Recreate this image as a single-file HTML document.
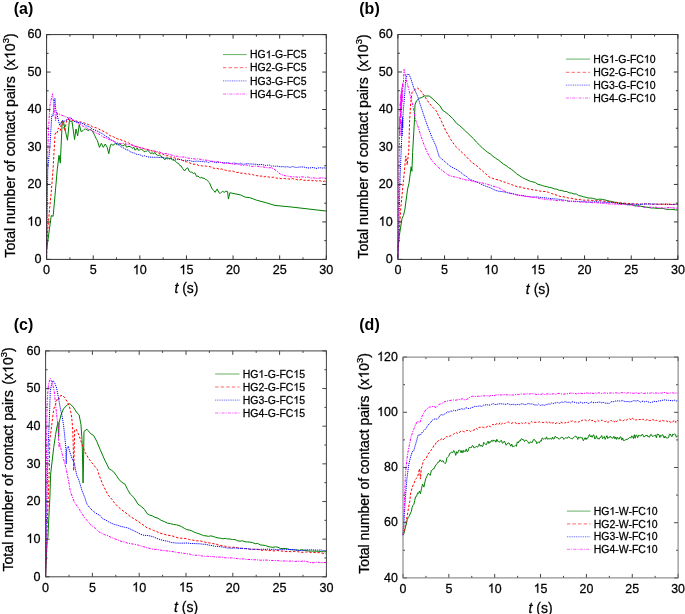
<!DOCTYPE html>
<html><head><meta charset="utf-8"><style>
html,body{margin:0;padding:0;background:#fff;}
body{width:685px;height:614px;overflow:hidden;}
svg{display:block;will-change:transform;}
text{font-family:"Liberation Sans", sans-serif;fill:#000;stroke:#000;stroke-width:0.25px;}
.tk{font-size:12.6px;}
.at{font-size:14px;}
.lg{font-size:10.5px;}
.pl{font-size:16px;font-weight:bold;stroke-width:0;}
.o1{fill:none;stroke:none;}
</style></head><body>
<svg width="685" height="614" viewBox="0 0 685 614">
<rect width="685" height="614" fill="#fff"/>
<path d="M46.60,250.03 L51.26,215.56 L53.13,216.31 L54.99,195.71 L57.23,169.85 L59.00,155.24 L60.31,163.11 L62.26,121.15 L63.38,121.15 L65.53,131.64 L67.48,140.26 L69.44,120.02 L70.70,121.59 L71.96,121.15 L73.26,130.17 L74.57,139.51 L75.97,129.02 L77.65,135.76 L79.23,124.52 L81.10,131.64 L83.15,130.51 L84.42,129.23 L85.70,129.00 L86.97,129.77 L88.30,130.84 L89.63,129.49 L90.96,129.82 L92.28,130.89 L93.54,133.07 L94.80,135.76 L96.11,138.43 L97.41,140.63 L99.46,147.37 L101.33,143.25 L103.29,147.37 L105.24,144.00 L107.20,147.37 L108.79,153.74 L110.46,144.75 L111.77,144.13 L113.08,145.55 L114.38,144.00 L115.52,143.58 L116.66,144.78 L117.79,143.72 L118.93,144.28 L120.07,144.00 L121.36,145.24 L122.65,145.77 L123.94,145.37 L125.23,144.28 L126.52,147.26 L127.81,146.63 L128.98,146.41 L130.16,146.65 L131.33,147.44 L132.51,148.55 L133.68,146.89 L134.85,150.00 L136.03,149.70 L137.20,147.86 L138.38,150.28 L139.55,150.00 L140.70,149.26 L141.84,149.38 L142.98,150.29 L144.12,151.73 L145.26,151.41 L146.41,151.21 L147.55,150.38 L148.69,151.12 L149.89,152.72 L151.08,153.61 L152.28,152.52 L153.48,154.13 L154.67,152.47 L155.87,154.30 L157.07,154.73 L158.26,155.93 L159.46,154.73 L160.66,156.20 L161.85,156.68 L163.05,157.87 L165.01,159.74 L165.94,158.24 L167.19,157.67 L168.44,158.24 L169.69,158.67 L170.94,158.60 L172.19,159.74 L173.47,160.13 L174.75,160.60 L176.03,161.59 L177.31,163.11 L178.62,163.43 L179.92,165.66 L181.23,166.00 L182.53,168.36 L184.59,170.98 L186.45,168.36 L187.78,167.85 L189.11,171.26 L190.44,172.24 L191.76,172.10 L193.30,173.46 L194.84,172.85 L196.71,176.60 L197.99,175.91 L199.27,177.35 L200.55,177.85 L201.83,177.35 L203.00,178.38 L204.16,178.07 L205.33,179.39 L206.50,179.60 L208.17,181.47 L209.51,182.74 L210.85,186.15 L212.18,188.96 L213.63,190.32 L215.07,192.33 L217.22,188.96 L218.71,192.41 L220.20,193.46 L222.44,191.21 L224.21,192.33 L225.89,191.21 L227.57,191.59 L228.40,199.08 L229.90,192.71 L234.93,193.83 L240.71,194.96 L245.28,197.21 L249.76,197.58 L256.65,200.20 L265.05,202.45 L275.02,205.45 L290.87,206.95 L326.30,211.07" fill="none" stroke="#008000" stroke-width="1.0" stroke-linejoin="round"/>
<path d="M46.60,257.53 L46.88,240.29 L49.12,214.07 L51.26,191.96 L53.13,168.36 L54.11,150.18 L55.08,134.26 L56.06,132.22 L57.04,133.14 L58.35,127.89 L59.33,129.70 L60.31,130.51 L61.28,123.84 L62.26,121.15 L63.52,126.29 L64.78,130.89 L66.83,119.27 L69.12,119.56 L71.40,120.02 L73.68,120.86 L75.97,120.76 L78.25,121.95 L80.54,121.90 L82.47,122.58 L84.41,122.98 L86.34,123.80 L88.28,124.52 L90.36,125.36 L92.45,126.85 L94.54,127.37 L96.63,127.96 L98.72,129.02 L100.79,130.20 L102.86,131.06 L104.93,132.06 L107.00,133.31 L109.07,135.01 L111.27,136.31 L113.47,136.72 L115.67,138.18 L117.87,139.00 L120.07,139.51 L122.23,140.40 L124.39,141.10 L126.55,142.35 L128.71,142.97 L130.87,144.64 L133.03,145.50 L134.99,146.62 L136.94,146.34 L138.90,147.47 L140.86,147.95 L142.82,148.22 L144.77,149.12 L146.73,149.08 L148.69,149.79 L150.65,150.39 L152.61,151.12 L154.56,151.53 L156.52,152.10 L158.48,152.89 L160.44,153.75 L162.40,153.84 L164.35,155.01 L166.31,155.69 L168.27,155.78 L170.23,156.98 L172.19,157.12 L174.26,157.83 L176.32,158.56 L178.39,159.00 L180.46,159.92 L182.53,160.49 L184.62,161.60 L186.70,161.81 L188.78,162.58 L190.86,163.41 L192.95,164.16 L195.03,164.23 L196.93,164.47 L198.84,165.53 L200.75,165.66 L202.65,166.00 L204.56,165.89 L206.46,166.19 L208.37,166.32 L210.28,166.80 L212.18,167.31 L214.09,168.45 L215.99,168.20 L217.90,168.65 L219.81,169.43 L221.71,168.95 L223.62,169.78 L225.53,170.22 L227.43,170.90 L229.34,170.98 L231.26,171.09 L233.18,171.10 L235.11,172.07 L237.03,172.52 L238.95,172.31 L240.87,173.25 L242.80,173.12 L244.72,173.40 L246.64,174.13 L248.57,173.74 L250.49,174.69 L252.41,174.37 L254.34,175.36 L256.26,175.52 L258.18,175.91 L260.10,176.22 L262.00,175.98 L263.90,177.04 L265.79,176.27 L267.69,176.89 L269.58,177.10 L271.48,177.36 L273.37,177.21 L275.27,177.94 L277.17,178.19 L279.06,177.98 L280.96,178.78 L282.85,178.47 L284.74,178.53 L286.63,178.93 L288.52,178.87 L290.41,179.29 L292.30,178.58 L294.19,178.97 L296.08,179.31 L297.97,179.97 L299.85,179.81 L301.74,179.25 L303.63,180.34 L305.52,180.21 L307.41,180.57 L309.30,180.17 L311.19,180.36 L313.08,180.80 L314.97,180.20 L316.86,181.18 L318.74,180.70 L320.63,180.96 L322.52,181.71 L324.41,181.13 L326.30,181.47" fill="none" stroke="#ff0000" stroke-width="1.0" stroke-linejoin="round" stroke-dasharray="2.4,1.7"/>
<path d="M46.60,255.65 L47.07,221.93 L47.72,170.23 L49.86,147.37 L51.82,114.78 L53.13,115.90 L54.43,99.04 L54.99,98.29 L55.64,109.53 L57.04,113.65 L57.69,117.40 L59.65,125.27 L62.17,120.77 L64.78,121.15 L70.09,117.40 L72.05,118.78 L74.01,121.15 L75.97,121.99 L77.93,122.49 L79.88,122.68 L81.84,123.40 L83.88,124.08 L85.92,125.72 L87.96,126.38 L89.99,127.13 L92.03,128.93 L94.07,129.79 L96.11,130.51 L98.27,131.59 L100.43,132.72 L102.59,133.87 L104.75,135.50 L106.91,136.89 L109.07,138.01 L111.27,140.10 L113.47,140.95 L115.67,142.97 L117.87,144.47 L120.07,145.88 L122.03,147.50 L123.98,148.12 L126.14,149.73 L128.30,150.14 L130.46,151.83 L132.62,152.69 L134.78,153.21 L136.94,154.49 L138.81,154.53 L140.67,155.15 L142.54,156.15 L144.40,155.75 L146.27,156.47 L148.13,156.97 L150.00,157.12 L151.95,157.17 L153.91,157.41 L155.87,157.18 L157.83,157.41 L159.79,157.52 L161.74,157.45 L163.70,157.58 L165.66,158.24 L167.62,158.84 L169.57,158.79 L171.53,158.63 L173.49,159.37 L175.45,159.73 L177.41,159.26 L179.36,159.53 L181.32,159.52 L183.28,160.55 L185.24,160.23 L187.20,160.59 L189.15,160.59 L191.11,160.96 L193.07,161.54 L195.03,161.24 L196.93,161.21 L198.84,161.20 L200.75,161.42 L202.65,161.38 L204.56,161.90 L206.46,161.77 L208.37,162.52 L210.28,161.52 L212.18,161.63 L214.09,162.09 L215.99,162.74 L217.90,162.42 L219.81,162.30 L221.71,162.36 L223.62,162.90 L225.53,162.87 L227.43,162.75 L229.34,163.11 L231.26,163.66 L233.18,163.06 L235.11,163.16 L237.03,163.71 L238.95,164.04 L240.87,163.14 L242.80,164.21 L244.72,164.11 L246.64,163.59 L248.57,163.85 L250.49,163.98 L252.41,163.93 L254.34,164.31 L256.26,164.14 L258.18,164.71 L260.10,164.61 L262.00,164.41 L263.90,165.02 L265.79,165.49 L267.69,165.26 L269.58,165.18 L271.48,166.07 L273.37,166.02 L275.27,166.33 L277.17,166.02 L279.06,166.60 L280.96,166.85 L282.85,166.48 L284.76,167.08 L286.68,166.64 L288.59,167.08 L290.50,167.33 L292.41,166.53 L294.32,167.06 L296.23,167.57 L298.14,167.24 L300.05,166.96 L301.97,167.03 L303.88,166.95 L305.79,167.61 L307.84,167.95 L309.89,167.99 L311.94,167.57 L313.99,167.66 L316.04,168.54 L318.10,167.93 L320.15,167.72 L322.20,168.12 L324.25,167.82 L326.30,168.36" fill="none" stroke="#0000ff" stroke-width="1.0" stroke-linejoin="round" stroke-dasharray="1.2,0.9"/>
<path d="M46.60,253.78 L47.25,168.36 L48.56,129.02 L49.86,105.79 L52.47,93.80 L54.43,108.03 L55.64,120.77 L56.39,112.91 L68.79,118.15 L71.27,119.27 L73.76,120.43 L76.24,122.20 L78.72,123.30 L81.21,125.19 L83.69,126.64 L86.17,127.50 L88.66,129.48 L91.14,130.31 L93.62,131.60 L96.11,133.14 L98.70,133.96 L101.29,135.71 L103.88,137.29 L106.47,138.16 L109.07,139.51 L111.82,140.39 L114.57,141.83 L117.32,142.82 L120.07,143.63 L123.98,143.25 L126.37,144.11 L128.75,144.79 L131.14,144.76 L133.52,145.41 L135.91,146.79 L138.29,147.06 L140.68,147.49 L143.07,148.31 L145.45,149.16 L147.84,149.72 L150.22,150.46 L152.61,150.75 L155.05,151.08 L157.50,151.71 L159.95,152.10 L162.40,153.43 L164.84,153.45 L167.29,153.92 L169.74,154.58 L172.19,155.24 L174.72,156.19 L177.26,156.23 L179.80,157.02 L182.34,157.09 L184.88,156.98 L187.41,158.08 L189.95,158.20 L192.49,158.60 L195.03,158.99 L197.48,158.81 L199.93,159.22 L202.38,159.85 L204.83,160.10 L207.28,160.25 L209.73,160.80 L212.18,161.24 L214.56,161.65 L216.94,161.39 L219.31,162.22 L221.69,162.71 L224.07,163.25 L226.45,163.34 L228.82,163.30 L231.20,163.65 L233.58,164.39 L235.96,163.91 L238.33,164.21 L240.71,164.98 L243.14,165.37 L245.56,164.90 L247.98,165.28 L250.41,166.20 L252.83,166.43 L255.26,166.00 L257.68,166.27 L260.10,166.86 L262.95,166.91 L265.79,167.59 L268.64,167.85 L271.48,167.61 L275.02,169.85 L277.54,171.63 L280.06,173.98 L282.92,175.09 L285.77,175.86 L288.63,176.22 L291.08,176.92 L293.54,176.71 L295.99,176.91 L298.44,177.29 L300.89,176.90 L303.34,176.91 L305.79,177.35 L308.35,177.04 L310.92,178.18 L313.48,177.89 L316.04,178.20 L318.61,178.26 L321.17,177.81 L323.74,178.03 L326.30,178.47" fill="none" stroke="#ff00ff" stroke-width="1.0" stroke-linejoin="round" stroke-dasharray="2.6,1.1,1.1,1.1"/>
<path d="M397.90,247.78 L399.21,236.54 L402.01,218.54 L403.41,215.54 L404.81,209.92 L407.61,188.93 L409.01,183.31 L409.66,178.06 L411.15,166.82 L411.90,171.31 L412.65,152.20 L414.51,119.21 L414.98,104.97 L416.47,100.85 L419.37,98.22 L421.84,97.47 L424.31,95.97 L426.74,96.00 L429.17,95.97 L432.06,98.22 L435.98,101.97 L439.90,105.72 L442.89,110.59 L444.85,111.72 L448.67,114.71 L452.69,118.46 L456.51,123.34 L459.73,125.67 L462.95,128.58 L465.59,131.05 L468.23,133.75 L470.86,136.14 L473.50,138.70 L476.52,142.20 L479.54,145.13 L482.55,148.07 L485.17,150.37 L487.78,152.44 L490.39,153.96 L493.01,156.35 L495.62,158.19 L498.21,159.89 L500.81,161.88 L503.40,164.07 L506.00,165.54 L508.59,167.57 L511.23,169.17 L513.87,171.30 L516.50,173.65 L519.14,175.44 L522.36,177.56 L525.58,179.19 L528.02,180.24 L530.46,181.46 L532.91,181.87 L535.35,182.57 L537.79,184.29 L540.23,184.81 L542.57,185.64 L544.90,186.30 L547.23,186.81 L549.57,187.47 L551.90,187.86 L554.23,188.93 L556.73,189.15 L559.22,190.33 L561.71,190.34 L564.21,191.44 L566.70,191.50 L569.19,192.81 L571.69,193.05 L574.02,193.95 L576.35,193.98 L578.69,195.54 L581.02,195.99 L583.35,196.83 L585.69,197.18 L588.04,198.01 L590.40,197.97 L592.76,198.36 L595.11,199.05 L597.49,199.44 L599.87,199.09 L602.25,199.38 L604.63,199.80 L606.97,200.50 L609.30,201.09 L611.63,201.42 L613.97,202.19 L616.30,202.42 L618.63,202.94 L620.97,203.31 L623.30,203.92 L625.63,204.14 L627.97,204.73 L630.30,204.51 L632.63,205.00 L634.97,205.88 L637.30,205.81 L639.63,205.91 L641.97,206.54 L644.30,206.79 L646.63,207.30 L648.97,207.48 L651.30,208.07 L653.63,207.98 L655.97,208.29 L658.30,208.42 L660.75,208.30 L663.20,208.50 L665.65,209.19 L668.10,209.40 L670.55,209.35 L673.00,209.44 L675.45,209.94 L677.90,209.92" fill="none" stroke="#008000" stroke-width="1.0" stroke-linejoin="round"/>
<path d="M397.90,255.65 L399.86,222.67 L400.61,209.92 L403.41,180.69 L404.34,171.69 L405.74,155.95 L407.23,164.94 L408.73,150.32 L409.66,119.96 L410.59,103.84 L412.09,92.22 L413.58,90.35 L417.50,88.10 L420.39,90.35 L424.31,95.97 L429.17,103.09 L432.57,107.11 L435.98,110.59 L440.93,119.96 L445.78,130.83 L450.73,139.45 L454.83,145.45 L458.89,149.48 L462.95,153.32 L466.22,156.57 L469.49,160.07 L472.80,163.03 L476.11,165.32 L479.36,168.24 L482.60,171.03 L485.84,173.95 L489.09,176.94 L492.33,178.28 L495.57,179.41 L498.82,179.99 L502.06,181.43 L505.30,182.33 L508.55,183.58 L511.79,184.66 L515.03,185.93 L518.02,186.95 L521.01,187.05 L523.99,188.15 L526.98,188.64 L529.97,189.31 L533.05,189.86 L536.13,190.21 L539.21,190.93 L542.29,191.39 L545.37,191.55 L548.45,192.30 L551.36,193.43 L554.28,194.41 L557.20,195.34 L560.11,196.43 L563.02,196.63 L565.93,197.38 L568.84,198.08 L571.75,198.40 L574.66,199.12 L577.57,199.43 L580.63,199.41 L583.69,200.20 L586.74,200.11 L589.80,200.22 L592.86,200.48 L595.92,200.81 L598.98,200.53 L602.04,200.89 L605.10,201.30 L608.09,201.56 L611.07,202.03 L614.06,202.39 L617.05,202.45 L620.03,202.91 L623.02,203.01 L626.01,203.31 L628.99,203.46 L631.98,203.87 L634.97,203.92 L637.83,203.87 L640.69,204.07 L643.55,204.25 L646.42,203.81 L649.28,203.69 L652.14,204.42 L655.00,203.95 L657.86,204.21 L660.73,204.22 L663.59,204.36 L666.45,203.97 L669.31,204.34 L672.18,204.38 L675.04,204.42 L677.90,204.30" fill="none" stroke="#ff0000" stroke-width="1.0" stroke-linejoin="round" stroke-dasharray="2.4,1.7"/>
<path d="M397.90,257.53 L398.46,240.66 L399.86,183.31 L400.89,157.07 L401.63,139.45 L401.91,120.71 L402.19,135.70 L402.47,116.96 L402.75,128.21 L403.13,113.22 L404.34,98.97 L405.74,79.48 L407.23,74.23 L409.19,74.61 L411.15,79.48 L413.58,87.35 L417.50,95.97 L420.39,104.97 L423.29,113.59 L425.34,119.96 L428.23,127.83 L432.06,137.58 L435.98,146.20 L438.97,155.95 L439.90,157.45 L443.91,160.82 L448.67,164.94 L449.98,166.07 L454.83,168.69 L457.63,170.22 L460.43,172.06 L463.45,174.74 L466.47,176.51 L469.49,179.19 L472.75,180.46 L476.02,181.93 L479.29,183.18 L482.55,184.81 L485.82,186.21 L489.09,187.28 L492.35,188.82 L495.62,190.43 L498.86,191.27 L502.11,191.60 L505.35,192.20 L508.59,193.05 L512.11,193.58 L515.62,194.33 L519.14,195.30 L522.08,195.44 L525.02,196.05 L527.95,196.49 L530.88,196.94 L533.80,197.04 L536.73,196.91 L539.66,197.24 L542.59,197.69 L545.52,197.86 L548.45,198.30 L551.35,198.67 L554.26,198.85 L557.16,199.06 L560.07,199.46 L562.97,200.01 L565.88,200.38 L568.78,201.28 L571.69,201.30 L574.72,201.22 L577.76,201.55 L580.80,201.29 L583.84,201.47 L586.87,202.12 L589.91,202.19 L592.95,202.04 L595.99,201.80 L599.02,201.98 L602.06,202.21 L605.10,202.43 L608.09,202.37 L611.07,202.47 L614.06,202.75 L617.05,203.27 L620.03,203.66 L623.02,203.31 L626.01,204.08 L628.99,204.16 L631.98,203.87 L634.97,204.30 L637.83,204.53 L640.69,204.28 L643.55,203.97 L646.42,204.04 L649.28,204.16 L652.14,203.99 L655.00,204.06 L657.86,204.37 L660.73,204.09 L663.59,204.08 L666.45,204.35 L669.31,204.18 L672.18,204.51 L675.04,204.22 L677.90,204.30" fill="none" stroke="#0000ff" stroke-width="1.0" stroke-linejoin="round" stroke-dasharray="1.2,0.9"/>
<path d="M397.90,257.53 L398.46,203.17 L399.02,169.44 L399.49,139.45 L399.77,116.96 L399.95,135.70 L400.23,101.97 L400.51,124.46 L400.79,94.47 L401.07,116.96 L401.35,90.72 L401.63,109.47 L401.91,86.98 L402.19,101.97 L402.57,83.23 L403.13,86.98 L404.06,69.36 L406.21,79.48 L408.73,89.23 L411.15,98.97 L413.11,106.84 L415.54,119.96 L418.43,127.83 L421.42,137.58 L424.31,145.45 L427.21,152.20 L430.19,158.19 L434.11,163.07 L438.97,167.94 L443.91,171.69 L446.81,174.05 L449.70,175.81 L454.83,176.94 L458.89,177.87 L462.95,179.19 L466.22,180.02 L469.49,180.31 L472.80,181.37 L476.11,181.81 L479.60,182.47 L483.08,183.07 L486.57,184.06 L489.48,184.93 L492.40,186.04 L495.32,186.89 L498.23,187.43 L502.11,189.81 L505.98,191.93 L509.00,192.85 L512.02,193.88 L515.03,194.55 L518.36,195.31 L521.69,195.63 L525.02,196.43 L527.95,196.56 L530.88,197.26 L533.80,197.32 L536.73,197.75 L539.66,198.65 L542.59,199.02 L545.52,199.19 L548.45,199.80 L551.35,199.74 L554.26,200.30 L557.16,200.60 L560.07,200.43 L562.97,200.86 L565.88,200.58 L568.78,201.11 L571.69,201.30 L574.65,201.68 L577.62,201.32 L580.58,202.14 L583.55,202.32 L586.52,202.02 L589.48,202.00 L592.45,202.63 L595.41,202.69 L598.38,202.80 L601.20,203.27 L604.01,203.12 L606.83,203.72 L609.65,203.90 L612.46,204.02 L615.28,204.01 L618.10,204.37 L620.92,204.44 L623.73,204.41 L626.55,204.60 L629.37,205.05 L632.24,205.31 L635.12,205.69 L638.00,206.36 L640.88,206.19 L643.76,207.27 L646.63,207.30 L649.48,207.17 L652.32,207.35 L655.16,207.19 L658.00,207.67 L660.85,207.87 L663.69,208.05 L666.53,207.91 L669.37,207.47 L672.22,207.72 L675.06,208.22 L677.90,208.05" fill="none" stroke="#ff00ff" stroke-width="1.0" stroke-linejoin="round" stroke-dasharray="2.6,1.1,1.1,1.1"/>
<path d="M45.60,576.80 L46.54,554.21 L47.28,539.15 L47.94,537.27 L48.31,529.74 L48.78,518.82 L49.81,499.24 L50.65,474.02 L53.74,447.28 L55.62,434.48 L57.11,425.82 L58.05,422.43 L58.61,437.50 L59.17,422.43 L61.04,414.90 L63.48,408.88 L67.41,404.74 L69.84,403.61 L73.21,407.00 L77.14,413.02 L79.11,414.90 L80.98,424.69 L82.01,439.38 L82.48,454.06 L83.04,483.05 L83.51,463.85 L83.98,431.47 L86.88,429.21 L90.81,433.73 L93.71,435.61 L96.71,441.26 L100.17,449.54 L104.76,460.08 L109.25,469.12 L111.59,470.24 L113.93,472.13 L116.50,475.71 L119.08,479.66 L122.02,482.38 L124.97,484.18 L127.59,489.55 L130.21,493.97 L134.05,497.73 L137.98,504.14 L141.26,506.49 L144.54,509.41 L147.06,513.55 L149.68,515.11 L152.30,515.77 L154.92,517.31 L157.98,518.24 L161.04,520.25 L164.10,521.45 L167.33,523.08 L170.56,523.71 L173.50,524.43 L176.45,524.84 L179.05,525.56 L181.66,526.76 L184.26,528.28 L186.86,529.61 L189.46,530.11 L191.82,530.88 L194.18,532.14 L196.54,532.97 L198.90,533.75 L201.26,534.63 L203.64,535.64 L206.03,535.85 L208.42,536.37 L210.80,535.86 L213.19,536.43 L215.58,537.27 L218.00,537.93 L220.42,538.20 L222.84,538.71 L225.26,538.51 L227.68,538.98 L230.10,538.99 L232.52,539.53 L235.02,539.59 L237.52,540.81 L240.02,541.20 L242.52,540.75 L245.02,541.76 L247.52,541.94 L250.02,542.16 L252.60,542.57 L255.17,543.78 L257.74,543.45 L260.32,544.93 L262.89,545.15 L265.47,545.55 L267.97,546.54 L270.47,546.97 L272.97,547.35 L275.47,546.80 L277.97,547.25 L280.47,548.48 L282.97,548.56 L285.31,548.49 L287.65,548.81 L289.99,549.59 L292.33,549.80 L294.67,549.80 L297.01,549.94 L299.35,550.32 L301.69,549.67 L304.03,550.26 L306.37,550.44 L308.87,551.09 L311.38,551.11 L313.88,551.11 L316.38,551.23 L318.89,551.30 L321.39,551.54 L323.90,551.81 L326.40,551.57" fill="none" stroke="#008000" stroke-width="1.0" stroke-linejoin="round"/>
<path d="M45.60,576.80 L46.54,546.68 L47.28,523.71 L49.34,468.74 L49.81,439.38 L50.65,433.73 L52.25,420.93 L53.74,408.88 L55.62,403.99 L57.58,397.96 L59.08,399.09 L60.01,396.08 L61.98,395.33 L64.41,397.21 L67.41,402.10 L69.28,405.87 L70.78,411.89 L71.81,418.29 L72.74,429.59 L73.21,444.27 L73.68,470.63 L74.15,452.55 L74.71,429.59 L76.21,429.21 L79.11,435.61 L82.01,444.27 L85.01,452.18 L88.94,458.96 L93.71,464.98 L97.64,469.87 L98.86,474.39 L102.79,484.56 L108.03,495.10 L111.87,499.24 L114.49,503.01 L117.81,506.45 L121.14,509.41 L124.36,511.73 L127.59,514.26 L130.82,516.91 L134.05,518.82 L137.30,520.88 L140.56,523.19 L143.81,525.39 L147.06,527.85 L150.31,529.00 L153.57,530.51 L156.82,531.66 L160.07,533.13 L163.05,533.89 L166.03,534.84 L169.00,535.44 L171.98,535.81 L174.96,536.89 L177.86,537.78 L180.76,538.23 L183.66,538.25 L186.56,538.76 L189.46,539.53 L192.74,540.06 L196.02,540.85 L199.29,540.80 L202.57,541.41 L205.84,542.36 L209.12,542.91 L212.36,543.44 L215.61,544.07 L218.85,545.09 L222.10,545.76 L225.34,546.26 L228.59,547.06 L231.65,547.30 L234.71,547.29 L237.77,547.67 L240.84,548.31 L243.90,548.39 L246.96,548.78 L250.02,549.32 L253.02,549.20 L256.01,549.34 L259.01,549.39 L262.00,550.42 L265.00,549.79 L267.99,550.74 L270.99,550.50 L273.98,550.94 L276.98,550.42 L279.97,550.93 L282.97,551.20 L285.89,551.62 L288.82,551.41 L291.74,551.85 L294.67,551.43 L297.59,551.66 L300.52,552.21 L303.44,552.31 L306.37,551.95 L309.23,552.04 L312.09,552.76 L314.95,552.50 L317.82,552.58 L320.68,552.75 L323.54,553.53 L326.40,553.46" fill="none" stroke="#ff0000" stroke-width="1.0" stroke-linejoin="round" stroke-dasharray="2.4,1.7"/>
<path d="M45.60,576.80 L46.54,520.32 L47.47,471.38 L48.41,441.26 L49.34,419.80 L50.28,391.19 L51.68,383.66 L53.18,380.64 L55.05,383.66 L56.64,388.17 L58.14,396.08 L59.55,403.99 L61.04,411.89 L61.98,415.28 L63.48,424.69 L64.88,437.50 L65.91,449.17 L66.19,463.85 L66.66,448.79 L67.41,448.04 L68.34,446.15 L69.28,450.30 L72.18,458.96 L74.24,462.72 L76.58,474.77 L79.11,480.79 L82.01,490.58 L85.01,498.11 L86.88,504.14 L90.81,509.03 L95.68,513.17 L99.98,515.43 L102.79,518.82 L105.71,520.04 L108.64,521.87 L111.56,523.29 L114.49,524.47 L117.77,525.36 L121.04,526.46 L124.32,527.17 L127.59,527.85 L130.85,529.34 L134.10,530.87 L137.35,532.53 L140.60,534.26 L143.86,535.33 L147.11,535.42 L150.36,535.99 L153.61,536.89 L157.11,538.57 L160.60,539.67 L164.10,540.66 L167.72,541.25 L171.34,542.54 L174.96,542.91 L177.98,543.15 L181.00,543.14 L184.02,543.17 L187.04,542.93 L190.06,543.41 L193.09,543.54 L196.11,543.67 L199.36,543.75 L202.61,544.18 L205.87,544.36 L209.12,545.17 L212.23,545.52 L215.33,546.41 L218.44,546.44 L221.55,546.84 L224.66,547.43 L227.48,548.04 L230.29,548.16 L233.11,548.19 L235.93,547.87 L238.75,548.60 L241.57,548.19 L244.39,548.65 L247.20,548.66 L250.02,548.94 L253.02,549.45 L256.01,549.28 L259.01,549.54 L262.00,549.17 L265.00,549.41 L267.99,549.10 L270.99,549.41 L273.98,549.25 L276.98,549.70 L279.97,549.29 L282.97,549.69 L285.86,549.70 L288.76,549.44 L291.66,549.48 L294.55,549.93 L297.45,550.33 L300.34,550.44 L303.24,550.43 L306.13,549.86 L309.03,549.88 L311.92,549.81 L314.82,550.04 L317.71,550.11 L320.61,549.97 L323.50,550.50 L326.40,550.44" fill="none" stroke="#0000ff" stroke-width="1.0" stroke-linejoin="round" stroke-dasharray="1.2,0.9"/>
<path d="M45.60,576.80 L46.07,501.50 L46.82,419.80 L47.28,399.47 L48.41,384.78 L50.28,378.38 L52.25,382.53 L54.21,391.19 L55.05,399.09 L56.08,408.88 L57.11,419.05 L58.14,424.69 L58.61,440.51 L59.08,447.28 L59.64,443.14 L62.45,455.19 L64.88,463.85 L66.38,469.87 L68.34,479.66 L70.31,491.33 L74.24,501.88 L79.11,509.03 L83.98,516.94 L87.39,520.92 L90.81,524.84 L95.68,528.61 L98.58,531.62 L101.73,533.26 L104.88,534.75 L108.03,535.76 L111.31,537.43 L114.58,538.74 L117.86,539.93 L121.14,541.41 L124.38,541.89 L127.62,543.11 L130.87,543.77 L134.11,544.21 L137.36,544.83 L140.60,545.93 L143.86,546.78 L147.11,547.88 L150.36,548.56 L153.61,549.32 L156.66,549.36 L159.71,550.02 L162.76,550.36 L165.81,550.75 L168.86,551.11 L171.91,551.50 L174.96,551.95 L177.98,552.69 L181.00,552.88 L184.02,553.30 L187.04,553.82 L190.06,554.18 L193.09,555.17 L196.11,555.34 L199.00,555.17 L201.89,555.97 L204.78,556.30 L207.67,556.22 L210.56,556.58 L213.46,556.62 L216.35,557.08 L219.24,557.11 L222.13,557.22 L225.23,557.83 L228.33,557.83 L231.43,557.89 L234.53,558.23 L237.63,558.67 L240.72,558.96 L243.82,558.88 L246.92,559.57 L250.02,559.48 L253.04,559.77 L256.05,559.75 L259.07,560.07 L262.09,560.22 L265.10,560.06 L268.12,560.13 L271.13,560.62 L274.15,560.36 L277.17,560.61 L280.09,560.92 L283.01,561.03 L285.93,560.90 L288.85,561.24 L291.77,560.91 L294.69,561.38 L297.61,561.30 L300.53,561.39 L303.45,560.99 L306.37,561.36 L309.93,562.49 L313.22,562.79 L316.52,562.14 L319.81,562.43 L323.11,562.56 L326.40,562.49" fill="none" stroke="#ff00ff" stroke-width="1.0" stroke-linejoin="round" stroke-dasharray="2.6,1.1,1.1,1.1"/>
<path d="M403.00,535.12 L403.84,533.85 L404.69,530.26 L405.53,526.81 L406.37,524.04 L407.22,519.66 L408.29,517.16 L409.36,516.20 L410.43,513.04 L411.28,511.58 L412.14,507.32 L413.00,505.31 L413.85,504.30 L414.71,500.56 L415.56,496.76 L416.57,496.41 L417.58,492.89 L418.54,493.39 L419.51,490.96 L420.42,493.72 L421.48,488.80 L422.53,484.06 L423.91,487.10 L424.92,481.97 L425.93,478.26 L427.12,475.86 L428.31,473.30 L429.32,474.62 L430.33,475.23 L431.24,470.72 L432.16,470.26 L433.17,468.82 L434.18,468.60 L435.16,466.11 L436.13,464.76 L437.11,463.64 L438.09,462.07 L439.07,461.93 L440.05,459.77 L441.02,461.15 L442.00,461.47 L442.98,460.60 L443.99,462.59 L445.00,463.64 L445.96,462.72 L446.92,457.84 L447.89,456.85 L448.85,455.98 L449.81,453.19 L450.78,452.87 L451.76,452.08 L452.75,452.71 L453.73,450.50 L454.72,451.77 L455.73,455.36 L456.68,451.74 L457.62,453.24 L458.57,450.39 L459.41,450.29 L460.26,450.60 L461.10,452.78 L461.94,450.42 L462.79,452.87 L463.65,450.27 L464.52,451.38 L465.39,451.53 L466.25,448.91 L467.12,451.76 L467.98,451.15 L468.85,448.30 L469.72,446.99 L470.58,447.90 L471.46,447.57 L472.34,445.43 L473.22,446.03 L474.10,448.06 L474.98,447.37 L475.86,446.83 L476.73,446.43 L477.61,447.16 L478.49,445.69 L479.37,443.86 L480.25,446.27 L481.13,445.14 L481.99,446.62 L482.85,446.11 L483.71,442.31 L484.58,443.30 L485.44,444.39 L486.30,444.73 L487.16,442.83 L488.02,441.18 L488.89,443.49 L489.75,441.66 L490.61,442.18 L491.47,440.42 L492.33,441.47 L493.20,439.85 L494.06,441.28 L494.99,440.29 L495.92,442.19 L496.85,439.29 L497.78,441.47 L498.71,441.62 L499.64,442.28 L500.57,440.73 L501.50,440.42 L502.43,443.25 L503.36,442.57 L504.29,441.11 L505.22,442.92 L506.15,445.22 L507.08,443.76 L508.01,443.43 L508.94,442.82 L509.87,444.34 L510.80,446.24 L511.73,444.09 L512.66,446.82 L513.59,446.52 L514.52,446.09 L515.45,445.34 L516.38,446.26 L517.31,441.83 L518.24,442.95 L519.17,440.77 L520.10,441.28 L520.99,439.17 L521.87,438.68 L522.76,439.90 L523.63,439.76 L524.50,441.52 L525.37,440.48 L526.24,439.96 L527.12,440.96 L527.99,441.83 L528.87,443.55 L529.75,442.78 L530.63,441.64 L531.52,443.02 L532.40,442.11 L533.28,439.91 L534.17,439.15 L535.05,440.73 L535.93,441.04 L536.82,443.71 L537.71,442.38 L538.59,442.25 L539.48,442.82 L540.37,440.68 L541.25,441.25 L542.14,437.99 L543.03,438.52 L543.89,439.32 L544.76,438.41 L545.63,439.20 L546.50,436.80 L547.37,439.22 L548.23,438.73 L549.10,438.97 L549.97,438.54 L550.84,438.68 L551.71,439.29 L552.57,437.04 L553.44,438.96 L554.31,438.75 L555.18,436.19 L556.05,437.42 L556.92,437.50 L557.78,437.71 L558.65,439.04 L559.52,439.17 L560.39,438.28 L561.26,437.15 L562.12,437.46 L562.99,437.59 L563.86,439.36 L564.73,438.46 L565.60,437.71 L566.46,438.00 L567.33,438.31 L568.20,436.70 L569.07,437.42 L569.94,437.63 L570.80,438.60 L571.67,438.64 L572.54,438.95 L573.41,437.45 L574.28,437.14 L575.15,436.14 L576.01,436.26 L576.88,437.12 L577.75,439.42 L578.62,436.85 L579.49,438.07 L580.35,437.32 L581.22,437.85 L582.09,437.42 L583.37,440.73 L584.25,439.12 L585.12,437.66 L585.99,439.66 L586.86,437.93 L587.73,438.33 L588.60,436.31 L589.48,434.55 L590.35,436.89 L591.22,435.53 L592.10,437.31 L592.97,435.33 L593.85,434.84 L594.72,438.86 L595.60,438.58 L596.47,435.78 L597.35,438.68 L598.22,438.51 L599.10,439.27 L599.97,437.42 L600.84,437.29 L601.71,435.56 L602.58,438.70 L603.44,437.44 L604.31,436.44 L605.18,439.37 L606.05,437.53 L606.92,435.64 L607.78,438.51 L608.65,437.37 L609.52,437.43 L610.39,436.02 L611.26,437.81 L612.12,438.11 L612.99,437.97 L613.87,436.27 L614.74,438.88 L615.62,437.03 L616.49,439.38 L617.36,437.03 L618.24,438.78 L619.11,439.14 L619.99,436.98 L620.86,436.87 L621.74,440.11 L622.61,437.90 L623.48,440.50 L624.36,440.53 L625.23,439.92 L626.11,439.35 L627.04,439.60 L627.97,438.71 L628.90,438.40 L629.83,437.22 L630.76,438.18 L631.69,435.86 L632.62,436.59 L633.46,438.53 L634.31,434.71 L635.15,438.28 L636.00,435.16 L636.84,435.30 L637.69,437.75 L638.53,435.22 L639.38,435.54 L640.22,435.80 L641.07,436.00 L641.91,434.46 L642.76,434.53 L643.60,436.73 L644.45,436.98 L645.30,435.54 L646.14,435.90 L646.99,434.94 L647.83,436.74 L648.68,436.63 L649.52,437.23 L650.37,434.72 L651.21,434.48 L652.06,436.04 L652.93,436.66 L653.79,435.63 L654.66,435.61 L655.53,434.98 L656.40,437.90 L657.27,434.03 L658.13,434.45 L659.00,434.61 L659.87,437.54 L660.74,435.31 L661.61,436.24 L662.47,434.58 L663.34,435.85 L664.21,438.05 L665.08,436.04 L665.95,437.90 L666.81,437.85 L667.68,437.94 L668.55,437.68 L669.42,434.23 L670.29,434.05 L671.16,435.94 L672.02,436.73 L672.89,434.01 L673.76,434.80 L674.63,433.79 L675.50,434.51 L676.36,437.27 L677.23,436.12 L678.10,435.76" fill="none" stroke="#008000" stroke-width="1.0" stroke-linejoin="round"/>
<path d="M403.00,535.12 L404.47,529.51 L405.93,522.15 L407.22,515.93 L408.50,507.80 L409.79,501.17 L410.70,492.89 L412.72,485.99 L414.14,483.09 L415.56,479.09 L417.58,477.16 L419.51,468.60 L420.42,479.09 L421.34,468.60 L422.44,464.39 L423.54,460.60 L424.82,459.18 L426.11,458.37 L427.39,455.63 L428.71,453.14 L430.02,451.79 L431.34,449.84 L432.76,448.14 L434.18,444.59 L435.42,444.31 L436.65,441.37 L437.89,441.44 L439.13,439.90 L440.34,440.24 L441.56,438.61 L442.77,440.13 L443.99,438.80 L445.20,438.22 L446.42,436.48 L447.63,436.94 L448.85,436.04 L450.07,436.17 L451.28,435.39 L452.50,435.14 L453.71,434.10 L454.98,432.82 L456.24,432.32 L457.51,433.78 L458.77,432.91 L460.04,431.90 L461.18,430.78 L462.32,431.05 L463.46,431.56 L464.60,431.95 L465.74,431.65 L466.88,430.18 L468.02,430.79 L469.21,430.39 L470.40,431.39 L471.59,430.21 L472.78,430.51 L473.98,429.94 L475.17,429.72 L476.36,428.15 L477.55,429.49 L478.74,427.59 L479.94,427.11 L481.13,427.48 L482.30,427.06 L483.48,427.34 L484.65,427.91 L485.83,427.53 L487.01,426.81 L488.18,425.23 L489.36,426.15 L490.53,426.81 L491.71,425.15 L492.88,424.31 L494.06,425.00 L495.24,425.26 L496.43,423.70 L497.61,423.72 L498.79,424.51 L499.98,422.70 L501.16,424.41 L502.34,423.18 L503.53,422.62 L504.71,423.75 L505.90,422.56 L507.08,422.24 L508.26,421.97 L509.45,422.61 L510.63,423.64 L511.81,423.24 L513.00,422.57 L514.18,422.29 L515.37,422.49 L516.55,424.04 L517.73,423.19 L518.92,423.90 L520.10,423.06 L521.25,422.57 L522.40,423.53 L523.55,422.48 L524.70,423.46 L525.85,422.50 L527.00,423.19 L528.15,422.99 L529.30,423.77 L530.45,423.47 L531.60,421.42 L532.75,422.59 L533.90,422.25 L535.05,422.24 L536.15,422.33 L537.26,421.96 L538.36,422.27 L539.47,421.77 L540.57,422.56 L541.68,422.32 L542.78,422.39 L543.89,422.58 L545.00,422.22 L546.10,421.81 L547.21,422.75 L548.31,423.15 L549.42,421.81 L550.52,423.60 L551.63,422.76 L552.73,422.95 L553.84,422.72 L554.94,423.97 L556.05,423.06 L557.23,422.82 L558.41,422.63 L559.60,423.87 L560.78,421.50 L561.97,423.05 L563.15,423.00 L564.33,422.89 L565.52,422.88 L566.70,421.44 L567.88,422.72 L569.07,421.68 L570.22,420.83 L571.37,421.33 L572.52,420.83 L573.66,421.19 L574.81,422.16 L575.96,421.56 L577.11,422.21 L578.26,422.11 L579.41,421.63 L580.56,419.91 L581.71,420.66 L582.86,420.05 L584.01,419.69 L585.15,419.91 L586.30,420.61 L587.45,421.27 L588.60,420.58 L589.73,419.57 L590.85,419.51 L591.97,421.01 L593.10,419.91 L594.22,421.25 L595.35,421.86 L596.47,421.26 L597.60,420.09 L598.72,421.15 L599.85,420.83 L600.97,420.76 L602.10,419.89 L603.22,421.00 L604.34,421.53 L605.47,421.60 L606.59,420.51 L607.72,422.38 L608.84,421.82 L609.97,421.41 L611.07,420.21 L612.18,421.51 L613.28,420.97 L614.39,421.91 L615.50,420.12 L616.60,421.65 L617.71,420.64 L618.81,419.92 L619.92,420.01 L621.02,420.10 L622.13,421.17 L623.24,420.70 L624.34,419.88 L625.45,420.79 L626.55,420.19 L627.66,418.94 L628.77,419.20 L629.92,418.67 L631.07,420.05 L632.22,418.07 L633.37,419.14 L634.52,418.79 L635.67,420.16 L636.82,419.66 L637.98,419.39 L639.13,419.48 L640.30,419.45 L641.48,420.33 L642.65,419.14 L643.83,419.44 L645.00,420.41 L646.18,420.37 L647.36,418.95 L648.53,420.22 L649.71,420.61 L650.88,420.43 L652.06,419.75 L653.18,419.37 L654.31,421.09 L655.44,420.76 L656.56,420.18 L657.69,421.55 L658.82,421.68 L659.94,420.94 L661.07,421.21 L662.20,420.22 L663.32,420.78 L664.45,420.94 L665.58,420.48 L666.70,421.07 L667.83,421.68 L668.97,420.86 L670.11,422.27 L671.25,421.93 L672.39,422.57 L673.54,420.84 L674.68,420.10 L675.82,422.44 L676.96,419.97 L678.10,421.13" fill="none" stroke="#ff0000" stroke-width="1.0" stroke-linejoin="round" stroke-dasharray="2.4,1.7"/>
<path d="M403.00,535.12 L403.92,522.70 L404.93,505.04 L406.85,479.09 L408.78,464.46 L410.70,456.74 L412.17,451.77 L413.73,450.94 L415.10,445.97 L415.56,444.59 L418.13,434.93 L420.51,434.93 L422.44,431.97 L424.37,430.24 L425.88,428.70 L427.39,426.10 L428.98,423.99 L430.57,422.56 L432.16,420.30 L433.81,419.15 L435.46,418.96 L437.11,419.20 L438.58,417.91 L440.05,415.34 L441.51,414.61 L442.98,415.14 L444.45,414.12 L445.92,413.40 L447.54,411.78 L449.16,412.19 L450.78,410.92 L452.18,411.38 L453.59,410.26 L454.99,410.64 L456.68,410.86 L458.36,409.36 L460.04,409.54 L461.52,408.51 L462.99,409.37 L464.47,408.93 L465.95,407.65 L467.43,408.20 L468.91,408.58 L470.39,408.30 L471.87,407.33 L473.30,407.33 L474.73,406.35 L476.17,406.41 L477.60,406.53 L479.04,405.85 L480.47,405.97 L481.90,406.53 L483.34,404.99 L484.77,405.47 L486.21,404.41 L487.64,404.85 L489.08,405.04 L490.51,405.10 L491.95,403.95 L493.39,403.73 L494.82,404.43 L496.26,404.48 L497.70,404.17 L499.13,403.88 L500.57,403.47 L502.02,404.09 L503.46,404.02 L504.91,404.19 L506.36,404.42 L507.80,403.55 L509.25,404.27 L510.70,404.84 L512.14,404.36 L513.59,404.30 L515.08,404.86 L516.57,404.64 L518.07,404.39 L519.56,404.70 L521.05,403.93 L522.54,403.68 L524.04,404.48 L525.53,404.62 L527.02,403.97 L528.51,403.36 L530.00,404.02 L531.45,404.00 L532.90,404.10 L534.34,405.02 L535.79,404.89 L537.24,405.19 L538.69,403.85 L540.13,405.48 L541.58,405.00 L543.03,404.85 L544.47,405.30 L545.92,404.66 L547.37,404.38 L548.81,403.81 L550.26,404.29 L551.71,402.94 L553.15,403.80 L554.60,402.89 L556.05,402.92 L557.49,402.40 L558.94,403.31 L560.39,402.62 L561.83,401.93 L563.28,402.41 L564.73,401.73 L566.18,401.95 L567.62,402.43 L569.07,402.09 L570.52,402.93 L571.96,401.77 L573.41,402.08 L574.86,402.40 L576.30,402.85 L577.75,402.84 L579.20,403.17 L580.64,402.19 L582.09,402.92 L583.58,403.18 L585.07,402.36 L586.56,402.52 L588.05,403.46 L589.54,403.27 L591.03,401.72 L592.52,402.45 L594.01,402.76 L595.50,402.57 L596.99,402.55 L598.48,402.15 L599.97,402.09 L601.62,402.78 L603.27,402.34 L604.92,403.07 L606.57,403.19 L608.00,403.26 L609.43,403.45 L610.85,401.91 L612.28,401.51 L613.71,401.71 L615.13,400.98 L616.56,401.28 L617.99,400.75 L619.41,400.98 L620.82,401.39 L622.23,400.21 L623.64,401.16 L625.05,401.49 L626.45,401.60 L627.86,401.54 L629.27,401.78 L630.68,401.74 L632.09,401.47 L633.49,400.56 L634.90,400.90 L636.31,400.92 L637.72,400.54 L639.13,401.26 L640.56,402.17 L642.00,401.30 L643.44,401.11 L644.87,401.91 L646.31,401.32 L647.75,401.54 L649.18,402.37 L650.62,402.57 L652.06,402.36 L653.68,401.32 L655.31,401.47 L656.94,401.67 L658.57,400.98 L659.99,400.72 L661.42,400.93 L662.84,400.15 L664.27,399.88 L665.70,399.90 L667.12,400.33 L668.55,400.33 L669.97,400.72 L671.40,400.20 L672.82,400.84 L674.25,400.16 L676.17,401.06 L678.10,400.43" fill="none" stroke="#0000ff" stroke-width="1.0" stroke-linejoin="round" stroke-dasharray="1.2,0.9"/>
<path d="M403.00,535.12 L403.73,517.18 L404.38,505.04 L405.38,474.40 L406.85,459.77 L408.32,449.84 L409.33,445.42 L410.70,437.97 L413.73,429.14 L417.12,421.41 L420.06,422.24 L421.52,417.27 L423.72,413.24 L425.93,409.54 L429.32,407.06 L431.24,407.00 L433.17,406.23 L436.20,407.61 L439.13,404.30 L441.56,403.57 L443.99,402.09 L446.42,401.16 L448.85,400.71 L451.28,400.28 L453.71,399.88 L455.82,400.23 L457.93,399.66 L460.04,399.33 L462.79,398.78 L465.36,400.16 L467.97,398.53 L470.58,396.84 L472.48,396.23 L474.37,396.55 L476.27,396.14 L478.16,396.31 L480.06,396.37 L481.95,395.77 L483.85,395.85 L485.74,395.81 L487.64,395.74 L489.58,396.16 L491.53,395.09 L493.47,395.91 L495.42,395.21 L497.36,394.82 L499.30,394.85 L501.25,394.98 L503.19,394.80 L505.14,394.49 L507.08,394.91 L508.94,394.87 L510.80,395.10 L512.66,394.96 L514.52,395.14 L516.38,394.14 L518.24,394.55 L520.10,394.36 L521.97,393.79 L523.84,394.14 L525.71,394.03 L527.57,393.76 L529.44,394.05 L531.31,393.75 L533.18,393.81 L535.05,394.08 L536.92,394.60 L538.79,394.15 L540.67,394.51 L542.54,393.76 L544.41,394.46 L546.29,394.01 L548.16,393.80 L550.03,394.37 L551.90,393.97 L553.78,393.82 L555.65,394.33 L557.52,393.61 L559.40,393.42 L561.27,393.95 L563.14,394.20 L565.02,393.95 L566.89,393.70 L568.76,393.68 L570.63,393.03 L572.51,393.43 L574.38,393.15 L576.25,393.91 L578.13,393.50 L580.00,393.01 L581.87,393.57 L583.75,393.56 L585.62,392.93 L587.49,393.02 L589.36,393.33 L591.24,392.95 L593.11,393.58 L594.98,392.98 L596.86,393.32 L598.73,392.72 L600.60,393.35 L602.48,393.45 L604.35,392.87 L606.22,393.03 L608.09,393.38 L609.97,392.98 L611.81,393.00 L613.65,393.16 L615.49,392.76 L617.33,393.05 L619.17,393.48 L621.02,392.69 L622.86,392.67 L624.70,392.77 L626.54,393.26 L628.38,392.64 L630.22,392.92 L632.06,393.14 L633.91,393.33 L635.75,392.59 L637.59,393.33 L639.43,393.34 L641.27,392.62 L643.11,393.51 L644.95,393.29 L646.80,393.03 L648.64,393.13 L650.48,393.15 L652.32,392.53 L654.16,393.46 L656.00,392.88 L657.84,393.43 L659.69,392.85 L661.53,393.25 L663.37,392.53 L665.21,392.47 L667.05,393.24 L668.89,393.30 L670.73,392.85 L672.58,392.85 L674.42,393.20 L676.26,393.05 L678.10,392.98" fill="none" stroke="#ff00ff" stroke-width="1.0" stroke-linejoin="round" stroke-dasharray="2.6,1.1,1.1,1.1"/>
<line x1="46.60" y1="259.40" x2="46.60" y2="255.40" stroke="#333" stroke-width="1"/>
<line x1="46.60" y1="34.60" x2="46.60" y2="38.60" stroke="#333" stroke-width="1"/>
<line x1="93.22" y1="259.40" x2="93.22" y2="255.40" stroke="#333" stroke-width="1"/>
<line x1="93.22" y1="34.60" x2="93.22" y2="38.60" stroke="#333" stroke-width="1"/>
<line x1="139.83" y1="259.40" x2="139.83" y2="255.40" stroke="#333" stroke-width="1"/>
<line x1="139.83" y1="34.60" x2="139.83" y2="38.60" stroke="#333" stroke-width="1"/>
<line x1="186.45" y1="259.40" x2="186.45" y2="255.40" stroke="#333" stroke-width="1"/>
<line x1="186.45" y1="34.60" x2="186.45" y2="38.60" stroke="#333" stroke-width="1"/>
<line x1="233.07" y1="259.40" x2="233.07" y2="255.40" stroke="#333" stroke-width="1"/>
<line x1="233.07" y1="34.60" x2="233.07" y2="38.60" stroke="#333" stroke-width="1"/>
<line x1="279.68" y1="259.40" x2="279.68" y2="255.40" stroke="#333" stroke-width="1"/>
<line x1="279.68" y1="34.60" x2="279.68" y2="38.60" stroke="#333" stroke-width="1"/>
<line x1="326.30" y1="259.40" x2="326.30" y2="255.40" stroke="#333" stroke-width="1"/>
<line x1="326.30" y1="34.60" x2="326.30" y2="38.60" stroke="#333" stroke-width="1"/>
<line x1="69.91" y1="259.40" x2="69.91" y2="257.40" stroke="#333" stroke-width="1"/>
<line x1="69.91" y1="34.60" x2="69.91" y2="36.60" stroke="#333" stroke-width="1"/>
<line x1="116.53" y1="259.40" x2="116.53" y2="257.40" stroke="#333" stroke-width="1"/>
<line x1="116.53" y1="34.60" x2="116.53" y2="36.60" stroke="#333" stroke-width="1"/>
<line x1="163.14" y1="259.40" x2="163.14" y2="257.40" stroke="#333" stroke-width="1"/>
<line x1="163.14" y1="34.60" x2="163.14" y2="36.60" stroke="#333" stroke-width="1"/>
<line x1="209.76" y1="259.40" x2="209.76" y2="257.40" stroke="#333" stroke-width="1"/>
<line x1="209.76" y1="34.60" x2="209.76" y2="36.60" stroke="#333" stroke-width="1"/>
<line x1="256.38" y1="259.40" x2="256.38" y2="257.40" stroke="#333" stroke-width="1"/>
<line x1="256.38" y1="34.60" x2="256.38" y2="36.60" stroke="#333" stroke-width="1"/>
<line x1="302.99" y1="259.40" x2="302.99" y2="257.40" stroke="#333" stroke-width="1"/>
<line x1="302.99" y1="34.60" x2="302.99" y2="36.60" stroke="#333" stroke-width="1"/>
<line x1="46.60" y1="259.40" x2="50.60" y2="259.40" stroke="#333" stroke-width="1"/>
<line x1="326.30" y1="259.40" x2="322.30" y2="259.40" stroke="#333" stroke-width="1"/>
<line x1="46.60" y1="221.93" x2="50.60" y2="221.93" stroke="#333" stroke-width="1"/>
<line x1="326.30" y1="221.93" x2="322.30" y2="221.93" stroke="#333" stroke-width="1"/>
<line x1="46.60" y1="184.47" x2="50.60" y2="184.47" stroke="#333" stroke-width="1"/>
<line x1="326.30" y1="184.47" x2="322.30" y2="184.47" stroke="#333" stroke-width="1"/>
<line x1="46.60" y1="147.00" x2="50.60" y2="147.00" stroke="#333" stroke-width="1"/>
<line x1="326.30" y1="147.00" x2="322.30" y2="147.00" stroke="#333" stroke-width="1"/>
<line x1="46.60" y1="109.53" x2="50.60" y2="109.53" stroke="#333" stroke-width="1"/>
<line x1="326.30" y1="109.53" x2="322.30" y2="109.53" stroke="#333" stroke-width="1"/>
<line x1="46.60" y1="72.07" x2="50.60" y2="72.07" stroke="#333" stroke-width="1"/>
<line x1="326.30" y1="72.07" x2="322.30" y2="72.07" stroke="#333" stroke-width="1"/>
<line x1="46.60" y1="34.60" x2="50.60" y2="34.60" stroke="#333" stroke-width="1"/>
<line x1="326.30" y1="34.60" x2="322.30" y2="34.60" stroke="#333" stroke-width="1"/>
<line x1="46.60" y1="240.67" x2="48.60" y2="240.67" stroke="#333" stroke-width="1"/>
<line x1="326.30" y1="240.67" x2="324.30" y2="240.67" stroke="#333" stroke-width="1"/>
<line x1="46.60" y1="203.20" x2="48.60" y2="203.20" stroke="#333" stroke-width="1"/>
<line x1="326.30" y1="203.20" x2="324.30" y2="203.20" stroke="#333" stroke-width="1"/>
<line x1="46.60" y1="165.73" x2="48.60" y2="165.73" stroke="#333" stroke-width="1"/>
<line x1="326.30" y1="165.73" x2="324.30" y2="165.73" stroke="#333" stroke-width="1"/>
<line x1="46.60" y1="128.27" x2="48.60" y2="128.27" stroke="#333" stroke-width="1"/>
<line x1="326.30" y1="128.27" x2="324.30" y2="128.27" stroke="#333" stroke-width="1"/>
<line x1="46.60" y1="90.80" x2="48.60" y2="90.80" stroke="#333" stroke-width="1"/>
<line x1="326.30" y1="90.80" x2="324.30" y2="90.80" stroke="#333" stroke-width="1"/>
<line x1="46.60" y1="53.33" x2="48.60" y2="53.33" stroke="#333" stroke-width="1"/>
<line x1="326.30" y1="53.33" x2="324.30" y2="53.33" stroke="#333" stroke-width="1"/>
<rect x="46.60" y="34.60" width="279.70" height="224.80" fill="none" stroke="#333" stroke-width="1"/>
<text x="41.40" y="263.20" transform="translate(0,-9.212) scale(1,1.035)" text-anchor="end" class="tk" style="font-size:12.6px">0</text>
<text x="41.40" y="225.73" transform="translate(0,-7.901) scale(1,1.035)" text-anchor="end" class="tk" style="font-size:12.6px"><tspan class="o1">1</tspan>0</text>
<text x="41.40" y="188.27" transform="translate(0,-6.589) scale(1,1.035)" text-anchor="end" class="tk" style="font-size:12.6px">20</text>
<text x="41.40" y="150.80" transform="translate(0,-5.278) scale(1,1.035)" text-anchor="end" class="tk" style="font-size:12.6px">30</text>
<text x="41.40" y="113.33" transform="translate(0,-3.967) scale(1,1.035)" text-anchor="end" class="tk" style="font-size:12.6px">40</text>
<text x="41.40" y="75.87" transform="translate(0,-2.655) scale(1,1.035)" text-anchor="end" class="tk" style="font-size:12.6px">50</text>
<text x="41.40" y="38.40" transform="translate(0,-1.344) scale(1,1.035)" text-anchor="end" class="tk" style="font-size:12.6px">60</text>
<text x="46.60" y="274.20" transform="translate(0,-9.597) scale(1,1.035)" text-anchor="middle" class="tk" style="font-size:12.6px">0</text>
<text x="93.22" y="274.20" transform="translate(0,-9.597) scale(1,1.035)" text-anchor="middle" class="tk" style="font-size:12.6px">5</text>
<text x="139.83" y="274.20" transform="translate(0,-9.597) scale(1,1.035)" text-anchor="middle" class="tk" style="font-size:12.6px"><tspan class="o1">1</tspan>0</text>
<text x="186.45" y="274.20" transform="translate(0,-9.597) scale(1,1.035)" text-anchor="middle" class="tk" style="font-size:12.6px"><tspan class="o1">1</tspan>5</text>
<text x="233.07" y="274.20" transform="translate(0,-9.597) scale(1,1.035)" text-anchor="middle" class="tk" style="font-size:12.6px">20</text>
<text x="279.68" y="274.20" transform="translate(0,-9.597) scale(1,1.035)" text-anchor="middle" class="tk" style="font-size:12.6px">25</text>
<text x="326.30" y="274.20" transform="translate(0,-9.597) scale(1,1.035)" text-anchor="middle" class="tk" style="font-size:12.6px">30</text>
<text x="186.45" y="293.50" transform="translate(0,-10.272) scale(1,1.035)" text-anchor="middle" class="at"><tspan font-style="italic">t</tspan> (s)</text>
<text transform="translate(15.10,145.50) rotate(-90) scale(1,1.035)" text-anchor="middle" class="at" style="font-size:14.15px">Total number of contact pairs <tspan dx="1.5">(x</tspan><tspan class="o1">1</tspan>0<tspan dy="-6" style="font-size:9.5px">3</tspan><tspan dy="6">)</tspan></text>
<line x1="397.90" y1="259.40" x2="397.90" y2="255.40" stroke="#333" stroke-width="1"/>
<line x1="397.90" y1="34.50" x2="397.90" y2="38.50" stroke="#333" stroke-width="1"/>
<line x1="444.57" y1="259.40" x2="444.57" y2="255.40" stroke="#333" stroke-width="1"/>
<line x1="444.57" y1="34.50" x2="444.57" y2="38.50" stroke="#333" stroke-width="1"/>
<line x1="491.23" y1="259.40" x2="491.23" y2="255.40" stroke="#333" stroke-width="1"/>
<line x1="491.23" y1="34.50" x2="491.23" y2="38.50" stroke="#333" stroke-width="1"/>
<line x1="537.90" y1="259.40" x2="537.90" y2="255.40" stroke="#333" stroke-width="1"/>
<line x1="537.90" y1="34.50" x2="537.90" y2="38.50" stroke="#333" stroke-width="1"/>
<line x1="584.57" y1="259.40" x2="584.57" y2="255.40" stroke="#333" stroke-width="1"/>
<line x1="584.57" y1="34.50" x2="584.57" y2="38.50" stroke="#333" stroke-width="1"/>
<line x1="631.23" y1="259.40" x2="631.23" y2="255.40" stroke="#333" stroke-width="1"/>
<line x1="631.23" y1="34.50" x2="631.23" y2="38.50" stroke="#333" stroke-width="1"/>
<line x1="677.90" y1="259.40" x2="677.90" y2="255.40" stroke="#333" stroke-width="1"/>
<line x1="677.90" y1="34.50" x2="677.90" y2="38.50" stroke="#333" stroke-width="1"/>
<line x1="421.23" y1="259.40" x2="421.23" y2="257.40" stroke="#333" stroke-width="1"/>
<line x1="421.23" y1="34.50" x2="421.23" y2="36.50" stroke="#333" stroke-width="1"/>
<line x1="467.90" y1="259.40" x2="467.90" y2="257.40" stroke="#333" stroke-width="1"/>
<line x1="467.90" y1="34.50" x2="467.90" y2="36.50" stroke="#333" stroke-width="1"/>
<line x1="514.57" y1="259.40" x2="514.57" y2="257.40" stroke="#333" stroke-width="1"/>
<line x1="514.57" y1="34.50" x2="514.57" y2="36.50" stroke="#333" stroke-width="1"/>
<line x1="561.23" y1="259.40" x2="561.23" y2="257.40" stroke="#333" stroke-width="1"/>
<line x1="561.23" y1="34.50" x2="561.23" y2="36.50" stroke="#333" stroke-width="1"/>
<line x1="607.90" y1="259.40" x2="607.90" y2="257.40" stroke="#333" stroke-width="1"/>
<line x1="607.90" y1="34.50" x2="607.90" y2="36.50" stroke="#333" stroke-width="1"/>
<line x1="654.57" y1="259.40" x2="654.57" y2="257.40" stroke="#333" stroke-width="1"/>
<line x1="654.57" y1="34.50" x2="654.57" y2="36.50" stroke="#333" stroke-width="1"/>
<line x1="397.90" y1="259.40" x2="401.90" y2="259.40" stroke="#333" stroke-width="1"/>
<line x1="677.90" y1="259.40" x2="673.90" y2="259.40" stroke="#333" stroke-width="1"/>
<line x1="397.90" y1="221.92" x2="401.90" y2="221.92" stroke="#333" stroke-width="1"/>
<line x1="677.90" y1="221.92" x2="673.90" y2="221.92" stroke="#333" stroke-width="1"/>
<line x1="397.90" y1="184.43" x2="401.90" y2="184.43" stroke="#333" stroke-width="1"/>
<line x1="677.90" y1="184.43" x2="673.90" y2="184.43" stroke="#333" stroke-width="1"/>
<line x1="397.90" y1="146.95" x2="401.90" y2="146.95" stroke="#333" stroke-width="1"/>
<line x1="677.90" y1="146.95" x2="673.90" y2="146.95" stroke="#333" stroke-width="1"/>
<line x1="397.90" y1="109.47" x2="401.90" y2="109.47" stroke="#333" stroke-width="1"/>
<line x1="677.90" y1="109.47" x2="673.90" y2="109.47" stroke="#333" stroke-width="1"/>
<line x1="397.90" y1="71.98" x2="401.90" y2="71.98" stroke="#333" stroke-width="1"/>
<line x1="677.90" y1="71.98" x2="673.90" y2="71.98" stroke="#333" stroke-width="1"/>
<line x1="397.90" y1="34.50" x2="401.90" y2="34.50" stroke="#333" stroke-width="1"/>
<line x1="677.90" y1="34.50" x2="673.90" y2="34.50" stroke="#333" stroke-width="1"/>
<line x1="397.90" y1="240.66" x2="399.90" y2="240.66" stroke="#333" stroke-width="1"/>
<line x1="677.90" y1="240.66" x2="675.90" y2="240.66" stroke="#333" stroke-width="1"/>
<line x1="397.90" y1="203.17" x2="399.90" y2="203.17" stroke="#333" stroke-width="1"/>
<line x1="677.90" y1="203.17" x2="675.90" y2="203.17" stroke="#333" stroke-width="1"/>
<line x1="397.90" y1="165.69" x2="399.90" y2="165.69" stroke="#333" stroke-width="1"/>
<line x1="677.90" y1="165.69" x2="675.90" y2="165.69" stroke="#333" stroke-width="1"/>
<line x1="397.90" y1="128.21" x2="399.90" y2="128.21" stroke="#333" stroke-width="1"/>
<line x1="677.90" y1="128.21" x2="675.90" y2="128.21" stroke="#333" stroke-width="1"/>
<line x1="397.90" y1="90.72" x2="399.90" y2="90.72" stroke="#333" stroke-width="1"/>
<line x1="677.90" y1="90.72" x2="675.90" y2="90.72" stroke="#333" stroke-width="1"/>
<line x1="397.90" y1="53.24" x2="399.90" y2="53.24" stroke="#333" stroke-width="1"/>
<line x1="677.90" y1="53.24" x2="675.90" y2="53.24" stroke="#333" stroke-width="1"/>
<rect x="397.90" y="34.50" width="280.00" height="224.90" fill="none" stroke="#333" stroke-width="1"/>
<text x="392.70" y="263.20" transform="translate(0,-9.212) scale(1,1.035)" text-anchor="end" class="tk" style="font-size:12.6px">0</text>
<text x="392.70" y="225.72" transform="translate(0,-7.900) scale(1,1.035)" text-anchor="end" class="tk" style="font-size:12.6px"><tspan class="o1">1</tspan>0</text>
<text x="392.70" y="188.23" transform="translate(0,-6.588) scale(1,1.035)" text-anchor="end" class="tk" style="font-size:12.6px">20</text>
<text x="392.70" y="150.75" transform="translate(0,-5.276) scale(1,1.035)" text-anchor="end" class="tk" style="font-size:12.6px">30</text>
<text x="392.70" y="113.27" transform="translate(0,-3.964) scale(1,1.035)" text-anchor="end" class="tk" style="font-size:12.6px">40</text>
<text x="392.70" y="75.78" transform="translate(0,-2.652) scale(1,1.035)" text-anchor="end" class="tk" style="font-size:12.6px">50</text>
<text x="392.70" y="38.30" transform="translate(0,-1.340) scale(1,1.035)" text-anchor="end" class="tk" style="font-size:12.6px">60</text>
<text x="397.90" y="274.20" transform="translate(0,-9.597) scale(1,1.035)" text-anchor="middle" class="tk" style="font-size:12.6px">0</text>
<text x="444.57" y="274.20" transform="translate(0,-9.597) scale(1,1.035)" text-anchor="middle" class="tk" style="font-size:12.6px">5</text>
<text x="491.23" y="274.20" transform="translate(0,-9.597) scale(1,1.035)" text-anchor="middle" class="tk" style="font-size:12.6px"><tspan class="o1">1</tspan>0</text>
<text x="537.90" y="274.20" transform="translate(0,-9.597) scale(1,1.035)" text-anchor="middle" class="tk" style="font-size:12.6px"><tspan class="o1">1</tspan>5</text>
<text x="584.57" y="274.20" transform="translate(0,-9.597) scale(1,1.035)" text-anchor="middle" class="tk" style="font-size:12.6px">20</text>
<text x="631.23" y="274.20" transform="translate(0,-9.597) scale(1,1.035)" text-anchor="middle" class="tk" style="font-size:12.6px">25</text>
<text x="677.90" y="274.20" transform="translate(0,-9.597) scale(1,1.035)" text-anchor="middle" class="tk" style="font-size:12.6px">30</text>
<text x="537.90" y="293.70" transform="translate(0,-10.279) scale(1,1.035)" text-anchor="middle" class="at"><tspan font-style="italic">t</tspan> (s)</text>
<text transform="translate(368.10,146.50) rotate(-90) scale(1,1.035)" text-anchor="middle" class="at" style="font-size:14.15px">Total number of contact pairs <tspan dx="1.5">(x</tspan><tspan class="o1">1</tspan>0<tspan dy="-6" style="font-size:9.5px">3</tspan><tspan dy="6">)</tspan></text>
<line x1="45.60" y1="576.80" x2="45.60" y2="572.80" stroke="#444" stroke-width="1"/>
<line x1="45.60" y1="350.90" x2="45.60" y2="354.90" stroke="#444" stroke-width="1"/>
<line x1="92.40" y1="576.80" x2="92.40" y2="572.80" stroke="#444" stroke-width="1"/>
<line x1="92.40" y1="350.90" x2="92.40" y2="354.90" stroke="#444" stroke-width="1"/>
<line x1="139.20" y1="576.80" x2="139.20" y2="572.80" stroke="#444" stroke-width="1"/>
<line x1="139.20" y1="350.90" x2="139.20" y2="354.90" stroke="#444" stroke-width="1"/>
<line x1="186.00" y1="576.80" x2="186.00" y2="572.80" stroke="#444" stroke-width="1"/>
<line x1="186.00" y1="350.90" x2="186.00" y2="354.90" stroke="#444" stroke-width="1"/>
<line x1="232.80" y1="576.80" x2="232.80" y2="572.80" stroke="#444" stroke-width="1"/>
<line x1="232.80" y1="350.90" x2="232.80" y2="354.90" stroke="#444" stroke-width="1"/>
<line x1="279.60" y1="576.80" x2="279.60" y2="572.80" stroke="#444" stroke-width="1"/>
<line x1="279.60" y1="350.90" x2="279.60" y2="354.90" stroke="#444" stroke-width="1"/>
<line x1="326.40" y1="576.80" x2="326.40" y2="572.80" stroke="#444" stroke-width="1"/>
<line x1="326.40" y1="350.90" x2="326.40" y2="354.90" stroke="#444" stroke-width="1"/>
<line x1="69.00" y1="576.80" x2="69.00" y2="574.80" stroke="#444" stroke-width="1"/>
<line x1="69.00" y1="350.90" x2="69.00" y2="352.90" stroke="#444" stroke-width="1"/>
<line x1="115.80" y1="576.80" x2="115.80" y2="574.80" stroke="#444" stroke-width="1"/>
<line x1="115.80" y1="350.90" x2="115.80" y2="352.90" stroke="#444" stroke-width="1"/>
<line x1="162.60" y1="576.80" x2="162.60" y2="574.80" stroke="#444" stroke-width="1"/>
<line x1="162.60" y1="350.90" x2="162.60" y2="352.90" stroke="#444" stroke-width="1"/>
<line x1="209.40" y1="576.80" x2="209.40" y2="574.80" stroke="#444" stroke-width="1"/>
<line x1="209.40" y1="350.90" x2="209.40" y2="352.90" stroke="#444" stroke-width="1"/>
<line x1="256.20" y1="576.80" x2="256.20" y2="574.80" stroke="#444" stroke-width="1"/>
<line x1="256.20" y1="350.90" x2="256.20" y2="352.90" stroke="#444" stroke-width="1"/>
<line x1="303.00" y1="576.80" x2="303.00" y2="574.80" stroke="#444" stroke-width="1"/>
<line x1="303.00" y1="350.90" x2="303.00" y2="352.90" stroke="#444" stroke-width="1"/>
<line x1="45.60" y1="576.80" x2="49.60" y2="576.80" stroke="#444" stroke-width="1"/>
<line x1="326.40" y1="576.80" x2="322.40" y2="576.80" stroke="#444" stroke-width="1"/>
<line x1="45.60" y1="539.15" x2="49.60" y2="539.15" stroke="#444" stroke-width="1"/>
<line x1="326.40" y1="539.15" x2="322.40" y2="539.15" stroke="#444" stroke-width="1"/>
<line x1="45.60" y1="501.50" x2="49.60" y2="501.50" stroke="#444" stroke-width="1"/>
<line x1="326.40" y1="501.50" x2="322.40" y2="501.50" stroke="#444" stroke-width="1"/>
<line x1="45.60" y1="463.85" x2="49.60" y2="463.85" stroke="#444" stroke-width="1"/>
<line x1="326.40" y1="463.85" x2="322.40" y2="463.85" stroke="#444" stroke-width="1"/>
<line x1="45.60" y1="426.20" x2="49.60" y2="426.20" stroke="#444" stroke-width="1"/>
<line x1="326.40" y1="426.20" x2="322.40" y2="426.20" stroke="#444" stroke-width="1"/>
<line x1="45.60" y1="388.55" x2="49.60" y2="388.55" stroke="#444" stroke-width="1"/>
<line x1="326.40" y1="388.55" x2="322.40" y2="388.55" stroke="#444" stroke-width="1"/>
<line x1="45.60" y1="350.90" x2="49.60" y2="350.90" stroke="#444" stroke-width="1"/>
<line x1="326.40" y1="350.90" x2="322.40" y2="350.90" stroke="#444" stroke-width="1"/>
<line x1="45.60" y1="557.97" x2="47.60" y2="557.97" stroke="#444" stroke-width="1"/>
<line x1="326.40" y1="557.97" x2="324.40" y2="557.97" stroke="#444" stroke-width="1"/>
<line x1="45.60" y1="520.32" x2="47.60" y2="520.32" stroke="#444" stroke-width="1"/>
<line x1="326.40" y1="520.32" x2="324.40" y2="520.32" stroke="#444" stroke-width="1"/>
<line x1="45.60" y1="482.67" x2="47.60" y2="482.67" stroke="#444" stroke-width="1"/>
<line x1="326.40" y1="482.67" x2="324.40" y2="482.67" stroke="#444" stroke-width="1"/>
<line x1="45.60" y1="445.02" x2="47.60" y2="445.02" stroke="#444" stroke-width="1"/>
<line x1="326.40" y1="445.02" x2="324.40" y2="445.02" stroke="#444" stroke-width="1"/>
<line x1="45.60" y1="407.38" x2="47.60" y2="407.38" stroke="#444" stroke-width="1"/>
<line x1="326.40" y1="407.38" x2="324.40" y2="407.38" stroke="#444" stroke-width="1"/>
<line x1="45.60" y1="369.73" x2="47.60" y2="369.73" stroke="#444" stroke-width="1"/>
<line x1="326.40" y1="369.73" x2="324.40" y2="369.73" stroke="#444" stroke-width="1"/>
<rect x="45.60" y="350.90" width="280.80" height="225.90" fill="none" stroke="#444" stroke-width="1"/>
<text x="40.40" y="580.60" transform="translate(0,-20.321) scale(1,1.035)" text-anchor="end" class="tk" style="font-size:12.6px">0</text>
<text x="40.40" y="542.95" transform="translate(0,-19.003) scale(1,1.035)" text-anchor="end" class="tk" style="font-size:12.6px"><tspan class="o1">1</tspan>0</text>
<text x="40.40" y="505.30" transform="translate(0,-17.685) scale(1,1.035)" text-anchor="end" class="tk" style="font-size:12.6px">20</text>
<text x="40.40" y="467.65" transform="translate(0,-16.368) scale(1,1.035)" text-anchor="end" class="tk" style="font-size:12.6px">30</text>
<text x="40.40" y="430.00" transform="translate(0,-15.050) scale(1,1.035)" text-anchor="end" class="tk" style="font-size:12.6px">40</text>
<text x="40.40" y="392.35" transform="translate(0,-13.732) scale(1,1.035)" text-anchor="end" class="tk" style="font-size:12.6px">50</text>
<text x="40.40" y="354.70" transform="translate(0,-12.414) scale(1,1.035)" text-anchor="end" class="tk" style="font-size:12.6px">60</text>
<text x="45.60" y="591.60" transform="translate(0,-20.706) scale(1,1.035)" text-anchor="middle" class="tk" style="font-size:12.6px">0</text>
<text x="92.40" y="591.60" transform="translate(0,-20.706) scale(1,1.035)" text-anchor="middle" class="tk" style="font-size:12.6px">5</text>
<text x="139.20" y="591.60" transform="translate(0,-20.706) scale(1,1.035)" text-anchor="middle" class="tk" style="font-size:12.6px"><tspan class="o1">1</tspan>0</text>
<text x="186.00" y="591.60" transform="translate(0,-20.706) scale(1,1.035)" text-anchor="middle" class="tk" style="font-size:12.6px"><tspan class="o1">1</tspan>5</text>
<text x="232.80" y="591.60" transform="translate(0,-20.706) scale(1,1.035)" text-anchor="middle" class="tk" style="font-size:12.6px">20</text>
<text x="279.60" y="591.60" transform="translate(0,-20.706) scale(1,1.035)" text-anchor="middle" class="tk" style="font-size:12.6px">25</text>
<text x="326.40" y="591.60" transform="translate(0,-20.706) scale(1,1.035)" text-anchor="middle" class="tk" style="font-size:12.6px">30</text>
<text x="186.00" y="611.70" transform="translate(0,-21.409) scale(1,1.035)" text-anchor="middle" class="at"><tspan font-style="italic">t</tspan> (s)</text>
<text transform="translate(13.30,459.40) rotate(-90) scale(1,1.035)" text-anchor="middle" class="at" style="font-size:14.15px">Total number of contact pairs <tspan dx="1.5">(x</tspan><tspan class="o1">1</tspan>0<tspan dy="-6" style="font-size:9.5px">3</tspan><tspan dy="6">)</tspan></text>
<line x1="403.00" y1="577.90" x2="403.00" y2="573.90" stroke="#444" stroke-width="1"/>
<line x1="403.00" y1="357.10" x2="403.00" y2="361.10" stroke="#444" stroke-width="1"/>
<line x1="448.85" y1="577.90" x2="448.85" y2="573.90" stroke="#444" stroke-width="1"/>
<line x1="448.85" y1="357.10" x2="448.85" y2="361.10" stroke="#444" stroke-width="1"/>
<line x1="494.70" y1="577.90" x2="494.70" y2="573.90" stroke="#444" stroke-width="1"/>
<line x1="494.70" y1="357.10" x2="494.70" y2="361.10" stroke="#444" stroke-width="1"/>
<line x1="540.55" y1="577.90" x2="540.55" y2="573.90" stroke="#444" stroke-width="1"/>
<line x1="540.55" y1="357.10" x2="540.55" y2="361.10" stroke="#444" stroke-width="1"/>
<line x1="586.40" y1="577.90" x2="586.40" y2="573.90" stroke="#444" stroke-width="1"/>
<line x1="586.40" y1="357.10" x2="586.40" y2="361.10" stroke="#444" stroke-width="1"/>
<line x1="632.25" y1="577.90" x2="632.25" y2="573.90" stroke="#444" stroke-width="1"/>
<line x1="632.25" y1="357.10" x2="632.25" y2="361.10" stroke="#444" stroke-width="1"/>
<line x1="678.10" y1="577.90" x2="678.10" y2="573.90" stroke="#444" stroke-width="1"/>
<line x1="678.10" y1="357.10" x2="678.10" y2="361.10" stroke="#444" stroke-width="1"/>
<line x1="425.93" y1="577.90" x2="425.93" y2="575.90" stroke="#444" stroke-width="1"/>
<line x1="425.93" y1="357.10" x2="425.93" y2="359.10" stroke="#444" stroke-width="1"/>
<line x1="471.77" y1="577.90" x2="471.77" y2="575.90" stroke="#444" stroke-width="1"/>
<line x1="471.77" y1="357.10" x2="471.77" y2="359.10" stroke="#444" stroke-width="1"/>
<line x1="517.62" y1="577.90" x2="517.62" y2="575.90" stroke="#444" stroke-width="1"/>
<line x1="517.62" y1="357.10" x2="517.62" y2="359.10" stroke="#444" stroke-width="1"/>
<line x1="563.48" y1="577.90" x2="563.48" y2="575.90" stroke="#444" stroke-width="1"/>
<line x1="563.48" y1="357.10" x2="563.48" y2="359.10" stroke="#444" stroke-width="1"/>
<line x1="609.33" y1="577.90" x2="609.33" y2="575.90" stroke="#444" stroke-width="1"/>
<line x1="609.33" y1="357.10" x2="609.33" y2="359.10" stroke="#444" stroke-width="1"/>
<line x1="655.18" y1="577.90" x2="655.18" y2="575.90" stroke="#444" stroke-width="1"/>
<line x1="655.18" y1="357.10" x2="655.18" y2="359.10" stroke="#444" stroke-width="1"/>
<line x1="403.00" y1="577.90" x2="407.00" y2="577.90" stroke="#444" stroke-width="1"/>
<line x1="678.10" y1="577.90" x2="674.10" y2="577.90" stroke="#444" stroke-width="1"/>
<line x1="403.00" y1="522.70" x2="407.00" y2="522.70" stroke="#444" stroke-width="1"/>
<line x1="678.10" y1="522.70" x2="674.10" y2="522.70" stroke="#444" stroke-width="1"/>
<line x1="403.00" y1="467.50" x2="407.00" y2="467.50" stroke="#444" stroke-width="1"/>
<line x1="678.10" y1="467.50" x2="674.10" y2="467.50" stroke="#444" stroke-width="1"/>
<line x1="403.00" y1="412.30" x2="407.00" y2="412.30" stroke="#444" stroke-width="1"/>
<line x1="678.10" y1="412.30" x2="674.10" y2="412.30" stroke="#444" stroke-width="1"/>
<line x1="403.00" y1="357.10" x2="407.00" y2="357.10" stroke="#444" stroke-width="1"/>
<line x1="678.10" y1="357.10" x2="674.10" y2="357.10" stroke="#444" stroke-width="1"/>
<line x1="403.00" y1="550.30" x2="405.00" y2="550.30" stroke="#444" stroke-width="1"/>
<line x1="678.10" y1="550.30" x2="676.10" y2="550.30" stroke="#444" stroke-width="1"/>
<line x1="403.00" y1="495.10" x2="405.00" y2="495.10" stroke="#444" stroke-width="1"/>
<line x1="678.10" y1="495.10" x2="676.10" y2="495.10" stroke="#444" stroke-width="1"/>
<line x1="403.00" y1="439.90" x2="405.00" y2="439.90" stroke="#444" stroke-width="1"/>
<line x1="678.10" y1="439.90" x2="676.10" y2="439.90" stroke="#444" stroke-width="1"/>
<line x1="403.00" y1="384.70" x2="405.00" y2="384.70" stroke="#444" stroke-width="1"/>
<line x1="678.10" y1="384.70" x2="676.10" y2="384.70" stroke="#444" stroke-width="1"/>
<rect x="403.00" y="357.10" width="275.10" height="220.80" fill="none" stroke="#777" stroke-width="1"/>
<text x="397.80" y="581.70" transform="translate(0,-20.359) scale(1,1.035)" text-anchor="end" class="tk" style="font-size:12.4px">40</text>
<text x="397.80" y="526.50" transform="translate(0,-18.427) scale(1,1.035)" text-anchor="end" class="tk" style="font-size:12.4px">60</text>
<text x="397.80" y="471.30" transform="translate(0,-16.495) scale(1,1.035)" text-anchor="end" class="tk" style="font-size:12.4px">80</text>
<text x="397.80" y="416.10" transform="translate(0,-14.563) scale(1,1.035)" text-anchor="end" class="tk" style="font-size:12.4px"><tspan class="o1">1</tspan>00</text>
<text x="397.80" y="360.90" transform="translate(0,-12.631) scale(1,1.035)" text-anchor="end" class="tk" style="font-size:12.4px"><tspan class="o1">1</tspan>20</text>
<text x="403.00" y="592.70" transform="translate(0,-20.744) scale(1,1.035)" text-anchor="middle" class="tk" style="font-size:12.4px">0</text>
<text x="448.85" y="592.70" transform="translate(0,-20.744) scale(1,1.035)" text-anchor="middle" class="tk" style="font-size:12.4px">5</text>
<text x="494.70" y="592.70" transform="translate(0,-20.744) scale(1,1.035)" text-anchor="middle" class="tk" style="font-size:12.4px"><tspan class="o1">1</tspan>0</text>
<text x="540.55" y="592.70" transform="translate(0,-20.744) scale(1,1.035)" text-anchor="middle" class="tk" style="font-size:12.4px"><tspan class="o1">1</tspan>5</text>
<text x="586.40" y="592.70" transform="translate(0,-20.744) scale(1,1.035)" text-anchor="middle" class="tk" style="font-size:12.4px">20</text>
<text x="632.25" y="592.70" transform="translate(0,-20.744) scale(1,1.035)" text-anchor="middle" class="tk" style="font-size:12.4px">25</text>
<text x="678.10" y="592.70" transform="translate(0,-20.744) scale(1,1.035)" text-anchor="middle" class="tk" style="font-size:12.4px">30</text>
<text x="540.55" y="612.70" transform="translate(0,-21.444) scale(1,1.035)" text-anchor="middle" class="at"><tspan font-style="italic">t</tspan> (s)</text>
<text transform="translate(368.90,463.40) rotate(-90) scale(1,1.035)" text-anchor="middle" class="at" style="font-size:13.9px">Total number of contact pairs <tspan dx="1.5">(x</tspan><tspan class="o1">1</tspan>0<tspan dy="-6" style="font-size:9.5px">3</tspan><tspan dy="6">)</tspan></text>
<line x1="223.00" y1="54.60" x2="246.80" y2="54.60" stroke="#008000" stroke-width="1.0" opacity="0.6"/>
<text x="250.00" y="58.30" transform="translate(0,-2.040) scale(1,1.035)" class="lg">HG<tspan class="o1">1</tspan>-G-FC5</text>
<line x1="223.00" y1="67.70" x2="246.80" y2="67.70" stroke="#ff0000" stroke-width="1.0" opacity="0.6" stroke-dasharray="3.4,2.2"/>
<text x="250.00" y="71.40" transform="translate(0,-2.499) scale(1,1.035)" class="lg">HG2-G-FC5</text>
<line x1="223.00" y1="80.90" x2="246.80" y2="80.90" stroke="#0000ff" stroke-width="1.0" opacity="0.6" stroke-dasharray="1,0.8"/>
<text x="250.00" y="84.60" transform="translate(0,-2.961) scale(1,1.035)" class="lg">HG3-G-FC5</text>
<line x1="223.00" y1="94.00" x2="246.80" y2="94.00" stroke="#ff00ff" stroke-width="1.0" opacity="0.6" stroke-dasharray="3,1.2,1,1.2"/>
<text x="250.00" y="97.70" transform="translate(0,-3.419) scale(1,1.035)" class="lg">HG4-G-FC5</text>
<line x1="565.90" y1="59.10" x2="590.00" y2="59.10" stroke="#008000" stroke-width="1.0" opacity="0.6"/>
<text x="593.20" y="62.80" transform="translate(0,-2.198) scale(1,1.035)" class="lg">HG<tspan class="o1">1</tspan>-G-FC<tspan class="o1">1</tspan>0</text>
<line x1="565.90" y1="72.30" x2="590.00" y2="72.30" stroke="#ff0000" stroke-width="1.0" opacity="0.6" stroke-dasharray="3.4,2.2"/>
<text x="593.20" y="76.00" transform="translate(0,-2.660) scale(1,1.035)" class="lg">HG2-G-FC<tspan class="o1">1</tspan>0</text>
<line x1="565.90" y1="85.10" x2="590.00" y2="85.10" stroke="#0000ff" stroke-width="1.0" opacity="0.6" stroke-dasharray="1,0.8"/>
<text x="593.20" y="88.80" transform="translate(0,-3.108) scale(1,1.035)" class="lg">HG3-G-FC<tspan class="o1">1</tspan>0</text>
<line x1="565.90" y1="98.00" x2="590.00" y2="98.00" stroke="#ff00ff" stroke-width="1.0" opacity="0.6" stroke-dasharray="3,1.2,1,1.2"/>
<text x="593.20" y="101.70" transform="translate(0,-3.559) scale(1,1.035)" class="lg">HG4-G-FC<tspan class="o1">1</tspan>0</text>
<line x1="215.10" y1="374.00" x2="239.50" y2="374.00" stroke="#008000" stroke-width="1.0" opacity="0.6"/>
<text x="242.70" y="377.70" transform="translate(0,-13.219) scale(1,1.035)" class="lg">HG<tspan class="o1">1</tspan>-G-FC<tspan class="o1">1</tspan>5</text>
<line x1="215.10" y1="387.00" x2="239.50" y2="387.00" stroke="#ff0000" stroke-width="1.0" opacity="0.6" stroke-dasharray="3.4,2.2"/>
<text x="242.70" y="390.70" transform="translate(0,-13.674) scale(1,1.035)" class="lg">HG2-G-FC<tspan class="o1">1</tspan>5</text>
<line x1="215.10" y1="400.10" x2="239.50" y2="400.10" stroke="#0000ff" stroke-width="1.0" opacity="0.6" stroke-dasharray="1,0.8"/>
<text x="242.70" y="403.80" transform="translate(0,-14.133) scale(1,1.035)" class="lg">HG3-G-FC<tspan class="o1">1</tspan>5</text>
<line x1="215.10" y1="413.00" x2="239.50" y2="413.00" stroke="#ff00ff" stroke-width="1.0" opacity="0.6" stroke-dasharray="3,1.2,1,1.2"/>
<text x="242.70" y="416.70" transform="translate(0,-14.584) scale(1,1.035)" class="lg">HG4-G-FC<tspan class="o1">1</tspan>5</text>
<line x1="566.90" y1="511.10" x2="590.50" y2="511.10" stroke="#008000" stroke-width="1.0" opacity="0.6"/>
<text x="593.70" y="514.80" transform="translate(0,-18.018) scale(1,1.035)" class="lg">HG<tspan class="o1">1</tspan>-W-FC<tspan class="o1">1</tspan>0</text>
<line x1="566.90" y1="523.90" x2="590.50" y2="523.90" stroke="#ff0000" stroke-width="1.0" opacity="0.6" stroke-dasharray="3.4,2.2"/>
<text x="593.70" y="527.60" transform="translate(0,-18.466) scale(1,1.035)" class="lg">HG2-W-FC<tspan class="o1">1</tspan>0</text>
<line x1="566.90" y1="536.80" x2="590.50" y2="536.80" stroke="#0000ff" stroke-width="1.0" opacity="0.6" stroke-dasharray="1,0.8"/>
<text x="593.70" y="540.50" transform="translate(0,-18.917) scale(1,1.035)" class="lg">HG3-W-FC<tspan class="o1">1</tspan>0</text>
<line x1="566.90" y1="549.30" x2="590.50" y2="549.30" stroke="#ff00ff" stroke-width="1.0" opacity="0.6" stroke-dasharray="3,1.2,1,1.2"/>
<text x="593.70" y="553.00" transform="translate(0,-19.355) scale(1,1.035)" class="lg">HG4-W-FC<tspan class="o1">1</tspan>0</text>
<text x="13.7" y="14.0" transform="translate(0,-0.490) scale(1,1.035)" class="pl">(a)</text>
<text x="359.3" y="14.0" transform="translate(0,-0.490) scale(1,1.035)" class="pl">(b)</text>
<text x="13.7" y="329.7" transform="translate(0,-11.539) scale(1,1.035)" class="pl">(c)</text>
<text x="359.3" y="329.7" transform="translate(0,-11.539) scale(1,1.035)" class="pl">(d)</text>
<path transform="matrix(1.00000,0.00000,0.00000,1.03500,0.000,-7.901) translate(27.366,225.730) scale(0.006152,-0.006152)" d="M763 0H583V1147Q518 1085 412.5 1023Q307 961 223 930V1104Q374 1175 487.5 1276Q601 1377 648 1466H763Z" fill="#000" stroke="#000" stroke-width="40.6"/>
<path transform="matrix(1.00000,0.00000,0.00000,1.03500,0.000,-9.597) translate(132.813,274.200) scale(0.006152,-0.006152)" d="M763 0H583V1147Q518 1085 412.5 1023Q307 961 223 930V1104Q374 1175 487.5 1276Q601 1377 648 1466H763Z" fill="#000" stroke="#000" stroke-width="40.6"/>
<path transform="matrix(1.00000,0.00000,0.00000,1.03500,0.000,-9.597) translate(179.433,274.200) scale(0.006152,-0.006152)" d="M763 0H583V1147Q518 1085 412.5 1023Q307 961 223 930V1104Q374 1175 487.5 1276Q601 1377 648 1466H763Z" fill="#000" stroke="#000" stroke-width="40.6"/>
<path transform="matrix(0.00000,-1.00000,1.03500,0.00000,15.100,145.500) translate(86.433,0.000) scale(0.006909,-0.006909)" d="M763 0H583V1147Q518 1085 412.5 1023Q307 961 223 930V1104Q374 1175 487.5 1276Q601 1377 648 1466H763Z" fill="#000" stroke="#000" stroke-width="36.2"/>
<path transform="matrix(1.00000,0.00000,0.00000,1.03500,0.000,-7.900) translate(378.666,225.720) scale(0.006152,-0.006152)" d="M763 0H583V1147Q518 1085 412.5 1023Q307 961 223 930V1104Q374 1175 487.5 1276Q601 1377 648 1466H763Z" fill="#000" stroke="#000" stroke-width="40.6"/>
<path transform="matrix(1.00000,0.00000,0.00000,1.03500,0.000,-9.597) translate(484.213,274.200) scale(0.006152,-0.006152)" d="M763 0H583V1147Q518 1085 412.5 1023Q307 961 223 930V1104Q374 1175 487.5 1276Q601 1377 648 1466H763Z" fill="#000" stroke="#000" stroke-width="40.6"/>
<path transform="matrix(1.00000,0.00000,0.00000,1.03500,0.000,-9.597) translate(530.883,274.200) scale(0.006152,-0.006152)" d="M763 0H583V1147Q518 1085 412.5 1023Q307 961 223 930V1104Q374 1175 487.5 1276Q601 1377 648 1466H763Z" fill="#000" stroke="#000" stroke-width="40.6"/>
<path transform="matrix(0.00000,-1.00000,1.03500,0.00000,368.100,146.500) translate(86.433,0.000) scale(0.006909,-0.006909)" d="M763 0H583V1147Q518 1085 412.5 1023Q307 961 223 930V1104Q374 1175 487.5 1276Q601 1377 648 1466H763Z" fill="#000" stroke="#000" stroke-width="36.2"/>
<path transform="matrix(1.00000,0.00000,0.00000,1.03500,0.000,-19.003) translate(26.366,542.950) scale(0.006152,-0.006152)" d="M763 0H583V1147Q518 1085 412.5 1023Q307 961 223 930V1104Q374 1175 487.5 1276Q601 1377 648 1466H763Z" fill="#000" stroke="#000" stroke-width="40.6"/>
<path transform="matrix(1.00000,0.00000,0.00000,1.03500,0.000,-20.706) translate(132.183,591.600) scale(0.006152,-0.006152)" d="M763 0H583V1147Q518 1085 412.5 1023Q307 961 223 930V1104Q374 1175 487.5 1276Q601 1377 648 1466H763Z" fill="#000" stroke="#000" stroke-width="40.6"/>
<path transform="matrix(1.00000,0.00000,0.00000,1.03500,0.000,-20.706) translate(178.983,591.600) scale(0.006152,-0.006152)" d="M763 0H583V1147Q518 1085 412.5 1023Q307 961 223 930V1104Q374 1175 487.5 1276Q601 1377 648 1466H763Z" fill="#000" stroke="#000" stroke-width="40.6"/>
<path transform="matrix(0.00000,-1.00000,1.03500,0.00000,13.300,459.400) translate(86.433,0.000) scale(0.006909,-0.006909)" d="M763 0H583V1147Q518 1085 412.5 1023Q307 961 223 930V1104Q374 1175 487.5 1276Q601 1377 648 1466H763Z" fill="#000" stroke="#000" stroke-width="36.2"/>
<path transform="matrix(1.00000,0.00000,0.00000,1.03500,0.000,-14.563) translate(377.118,416.100) scale(0.006055,-0.006055)" d="M763 0H583V1147Q518 1085 412.5 1023Q307 961 223 930V1104Q374 1175 487.5 1276Q601 1377 648 1466H763Z" fill="#000" stroke="#000" stroke-width="41.3"/>
<path transform="matrix(1.00000,0.00000,0.00000,1.03500,0.000,-12.631) translate(377.118,360.900) scale(0.006055,-0.006055)" d="M763 0H583V1147Q518 1085 412.5 1023Q307 961 223 930V1104Q374 1175 487.5 1276Q601 1377 648 1466H763Z" fill="#000" stroke="#000" stroke-width="41.3"/>
<path transform="matrix(1.00000,0.00000,0.00000,1.03500,0.000,-20.744) translate(487.806,592.700) scale(0.006055,-0.006055)" d="M763 0H583V1147Q518 1085 412.5 1023Q307 961 223 930V1104Q374 1175 487.5 1276Q601 1377 648 1466H763Z" fill="#000" stroke="#000" stroke-width="41.3"/>
<path transform="matrix(1.00000,0.00000,0.00000,1.03500,0.000,-20.744) translate(533.656,592.700) scale(0.006055,-0.006055)" d="M763 0H583V1147Q518 1085 412.5 1023Q307 961 223 930V1104Q374 1175 487.5 1276Q601 1377 648 1466H763Z" fill="#000" stroke="#000" stroke-width="41.3"/>
<path transform="matrix(0.00000,-1.00000,1.03500,0.00000,368.900,463.400) translate(84.898,0.000) scale(0.006787,-0.006787)" d="M763 0H583V1147Q518 1085 412.5 1023Q307 961 223 930V1104Q374 1175 487.5 1276Q601 1377 648 1466H763Z" fill="#000" stroke="#000" stroke-width="36.8"/>
<path transform="matrix(1.00000,0.00000,0.00000,1.03500,0.000,-2.040) translate(265.738,58.300) scale(0.005127,-0.005127)" d="M763 0H583V1147Q518 1085 412.5 1023Q307 961 223 930V1104Q374 1175 487.5 1276Q601 1377 648 1466H763Z" fill="#000" stroke="#000" stroke-width="48.8"/>
<path transform="matrix(1.00000,0.00000,0.00000,1.03500,0.000,-2.198) translate(608.938,62.800) scale(0.005127,-0.005127)" d="M763 0H583V1147Q518 1085 412.5 1023Q307 961 223 930V1104Q374 1175 487.5 1276Q601 1377 648 1466H763Z" fill="#000" stroke="#000" stroke-width="48.8"/>
<path transform="matrix(1.00000,0.00000,0.00000,1.03500,0.000,-2.198) translate(643.899,62.800) scale(0.005127,-0.005127)" d="M763 0H583V1147Q518 1085 412.5 1023Q307 961 223 930V1104Q374 1175 487.5 1276Q601 1377 648 1466H763Z" fill="#000" stroke="#000" stroke-width="48.8"/>
<path transform="matrix(1.00000,0.00000,0.00000,1.03500,0.000,-2.660) translate(643.884,76.000) scale(0.005127,-0.005127)" d="M763 0H583V1147Q518 1085 412.5 1023Q307 961 223 930V1104Q374 1175 487.5 1276Q601 1377 648 1466H763Z" fill="#000" stroke="#000" stroke-width="48.8"/>
<path transform="matrix(1.00000,0.00000,0.00000,1.03500,0.000,-3.108) translate(643.884,88.800) scale(0.005127,-0.005127)" d="M763 0H583V1147Q518 1085 412.5 1023Q307 961 223 930V1104Q374 1175 487.5 1276Q601 1377 648 1466H763Z" fill="#000" stroke="#000" stroke-width="48.8"/>
<path transform="matrix(1.00000,0.00000,0.00000,1.03500,0.000,-3.559) translate(643.884,101.700) scale(0.005127,-0.005127)" d="M763 0H583V1147Q518 1085 412.5 1023Q307 961 223 930V1104Q374 1175 487.5 1276Q601 1377 648 1466H763Z" fill="#000" stroke="#000" stroke-width="48.8"/>
<path transform="matrix(1.00000,0.00000,0.00000,1.03500,0.000,-13.219) translate(258.438,377.700) scale(0.005127,-0.005127)" d="M763 0H583V1147Q518 1085 412.5 1023Q307 961 223 930V1104Q374 1175 487.5 1276Q601 1377 648 1466H763Z" fill="#000" stroke="#000" stroke-width="48.8"/>
<path transform="matrix(1.00000,0.00000,0.00000,1.03500,0.000,-13.219) translate(293.399,377.700) scale(0.005127,-0.005127)" d="M763 0H583V1147Q518 1085 412.5 1023Q307 961 223 930V1104Q374 1175 487.5 1276Q601 1377 648 1466H763Z" fill="#000" stroke="#000" stroke-width="48.8"/>
<path transform="matrix(1.00000,0.00000,0.00000,1.03500,0.000,-13.674) translate(293.384,390.700) scale(0.005127,-0.005127)" d="M763 0H583V1147Q518 1085 412.5 1023Q307 961 223 930V1104Q374 1175 487.5 1276Q601 1377 648 1466H763Z" fill="#000" stroke="#000" stroke-width="48.8"/>
<path transform="matrix(1.00000,0.00000,0.00000,1.03500,0.000,-14.133) translate(293.384,403.800) scale(0.005127,-0.005127)" d="M763 0H583V1147Q518 1085 412.5 1023Q307 961 223 930V1104Q374 1175 487.5 1276Q601 1377 648 1466H763Z" fill="#000" stroke="#000" stroke-width="48.8"/>
<path transform="matrix(1.00000,0.00000,0.00000,1.03500,0.000,-14.584) translate(293.384,416.700) scale(0.005127,-0.005127)" d="M763 0H583V1147Q518 1085 412.5 1023Q307 961 223 930V1104Q374 1175 487.5 1276Q601 1377 648 1466H763Z" fill="#000" stroke="#000" stroke-width="48.8"/>
<path transform="matrix(1.00000,0.00000,0.00000,1.03500,0.000,-18.018) translate(609.438,514.800) scale(0.005127,-0.005127)" d="M763 0H583V1147Q518 1085 412.5 1023Q307 961 223 930V1104Q374 1175 487.5 1276Q601 1377 648 1466H763Z" fill="#000" stroke="#000" stroke-width="48.8"/>
<path transform="matrix(1.00000,0.00000,0.00000,1.03500,0.000,-18.018) translate(645.950,514.800) scale(0.005127,-0.005127)" d="M763 0H583V1147Q518 1085 412.5 1023Q307 961 223 930V1104Q374 1175 487.5 1276Q601 1377 648 1466H763Z" fill="#000" stroke="#000" stroke-width="48.8"/>
<path transform="matrix(1.00000,0.00000,0.00000,1.03500,0.000,-18.466) translate(645.934,527.600) scale(0.005127,-0.005127)" d="M763 0H583V1147Q518 1085 412.5 1023Q307 961 223 930V1104Q374 1175 487.5 1276Q601 1377 648 1466H763Z" fill="#000" stroke="#000" stroke-width="48.8"/>
<path transform="matrix(1.00000,0.00000,0.00000,1.03500,0.000,-18.917) translate(645.934,540.500) scale(0.005127,-0.005127)" d="M763 0H583V1147Q518 1085 412.5 1023Q307 961 223 930V1104Q374 1175 487.5 1276Q601 1377 648 1466H763Z" fill="#000" stroke="#000" stroke-width="48.8"/>
<path transform="matrix(1.00000,0.00000,0.00000,1.03500,0.000,-19.355) translate(645.934,553.000) scale(0.005127,-0.005127)" d="M763 0H583V1147Q518 1085 412.5 1023Q307 961 223 930V1104Q374 1175 487.5 1276Q601 1377 648 1466H763Z" fill="#000" stroke="#000" stroke-width="48.8"/>
</svg>
</body></html>
